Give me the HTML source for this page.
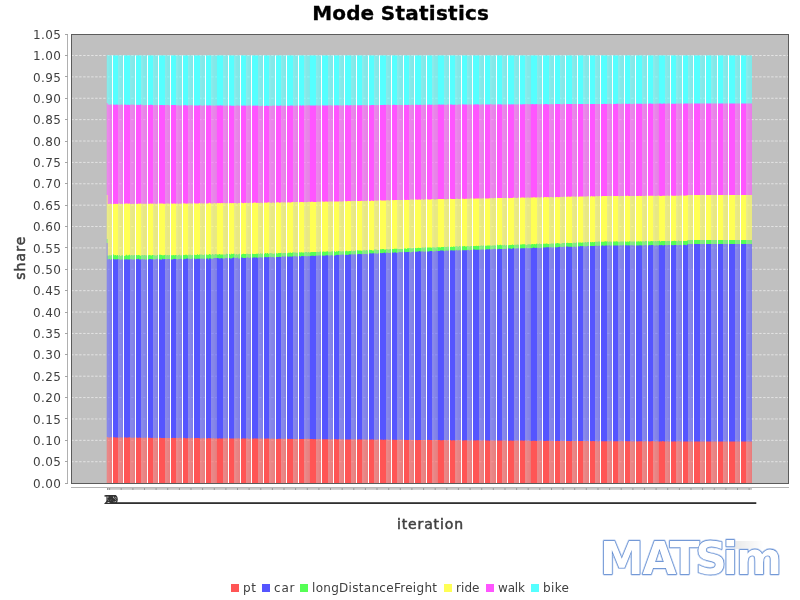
<!DOCTYPE html>
<html><head><meta charset="utf-8"><title>Mode Statistics</title>
<style>
html,body{margin:0;padding:0;background:#fff}
svg{display:block}
text{font-family:"DejaVu Sans","Liberation Sans",sans-serif}
.tk{font-size:12px;fill:#404040;text-anchor:end}
.lg{font-size:12px;fill:#404040}
.ax{font-size:14px;fill:#404040;stroke:#404040;stroke-width:0.5;text-anchor:middle}
.ct{font-size:12px;fill:#333;text-anchor:middle}
</style></head><body>
<svg width="800" height="600" viewBox="0 0 800 600">
<defs>

<mask id="cov" maskUnits="userSpaceOnUse" x="100" y="50" width="660" height="440">
<rect x="106" y="50" width="1" height="440" fill="#fff" fill-opacity="0.15"/>
<rect x="107" y="50" width="1" height="440" fill="#fff" fill-opacity="0.67"/>
<rect x="108" y="50" width="1" height="440" fill="#fff" fill-opacity="0.65"/>
<rect x="109" y="50" width="2" height="440" fill="#fff" fill-opacity="0.64"/>
<rect x="111" y="50" width="1" height="440" fill="#fff" fill-opacity="0.66"/>
<rect x="112" y="50" width="6" height="440" fill="#fff" fill-opacity="1"/>
<rect x="118" y="50" width="1" height="440" fill="#fff" fill-opacity="0.68"/>
<rect x="119" y="50" width="1" height="440" fill="#fff" fill-opacity="0.66"/>
<rect x="120" y="50" width="2" height="440" fill="#fff" fill-opacity="0.64"/>
<rect x="122" y="50" width="1" height="440" fill="#fff" fill-opacity="0.65"/>
<rect x="123" y="50" width="7" height="440" fill="#fff" fill-opacity="1"/>
<rect x="130" y="50" width="1" height="440" fill="#fff" fill-opacity="0.67"/>
<rect x="131" y="50" width="1" height="440" fill="#fff" fill-opacity="0.65"/>
<rect x="132" y="50" width="2" height="440" fill="#fff" fill-opacity="0.64"/>
<rect x="134" y="50" width="1" height="440" fill="#fff" fill-opacity="0.65"/>
<rect x="135" y="50" width="6" height="440" fill="#fff" fill-opacity="1"/>
<rect x="141" y="50" width="1" height="440" fill="#fff" fill-opacity="0.69"/>
<rect x="142" y="50" width="1" height="440" fill="#fff" fill-opacity="0.66"/>
<rect x="143" y="50" width="3" height="440" fill="#fff" fill-opacity="0.64"/>
<rect x="146" y="50" width="1" height="440" fill="#fff" fill-opacity="0.66"/>
<rect x="147" y="50" width="6" height="440" fill="#fff" fill-opacity="1"/>
<rect x="153" y="50" width="1" height="440" fill="#fff" fill-opacity="0.68"/>
<rect x="154" y="50" width="1" height="440" fill="#fff" fill-opacity="0.65"/>
<rect x="155" y="50" width="2" height="440" fill="#fff" fill-opacity="0.64"/>
<rect x="157" y="50" width="1" height="440" fill="#fff" fill-opacity="0.65"/>
<rect x="158" y="50" width="7" height="440" fill="#fff" fill-opacity="1"/>
<rect x="165" y="50" width="1" height="440" fill="#fff" fill-opacity="0.67"/>
<rect x="166" y="50" width="1" height="440" fill="#fff" fill-opacity="0.65"/>
<rect x="167" y="50" width="2" height="440" fill="#fff" fill-opacity="0.64"/>
<rect x="169" y="50" width="1" height="440" fill="#fff" fill-opacity="0.66"/>
<rect x="170" y="50" width="6" height="440" fill="#fff" fill-opacity="1"/>
<rect x="176" y="50" width="1" height="440" fill="#fff" fill-opacity="0.69"/>
<rect x="177" y="50" width="1" height="440" fill="#fff" fill-opacity="0.66"/>
<rect x="178" y="50" width="3" height="440" fill="#fff" fill-opacity="0.64"/>
<rect x="181" y="50" width="1" height="440" fill="#fff" fill-opacity="0.66"/>
<rect x="182" y="50" width="6" height="440" fill="#fff" fill-opacity="1"/>
<rect x="188" y="50" width="1" height="440" fill="#fff" fill-opacity="0.68"/>
<rect x="189" y="50" width="1" height="440" fill="#fff" fill-opacity="0.65"/>
<rect x="190" y="50" width="2" height="440" fill="#fff" fill-opacity="0.64"/>
<rect x="192" y="50" width="1" height="440" fill="#fff" fill-opacity="0.65"/>
<rect x="193" y="50" width="7" height="440" fill="#fff" fill-opacity="1"/>
<rect x="200" y="50" width="1" height="440" fill="#fff" fill-opacity="0.67"/>
<rect x="201" y="50" width="1" height="440" fill="#fff" fill-opacity="0.65"/>
<rect x="202" y="50" width="2" height="440" fill="#fff" fill-opacity="0.64"/>
<rect x="204" y="50" width="1" height="440" fill="#fff" fill-opacity="0.66"/>
<rect x="205" y="50" width="6" height="440" fill="#fff" fill-opacity="1"/>
<rect x="211" y="50" width="1" height="440" fill="#fff" fill-opacity="0.69"/>
<rect x="212" y="50" width="1" height="440" fill="#fff" fill-opacity="0.66"/>
<rect x="213" y="50" width="2" height="440" fill="#fff" fill-opacity="0.64"/>
<rect x="215" y="50" width="1" height="440" fill="#fff" fill-opacity="0.65"/>
<rect x="216" y="50" width="1" height="440" fill="#fff" fill-opacity="0.67"/>
<rect x="217" y="50" width="6" height="440" fill="#fff" fill-opacity="1"/>
<rect x="223" y="50" width="1" height="440" fill="#fff" fill-opacity="0.67"/>
<rect x="224" y="50" width="1" height="440" fill="#fff" fill-opacity="0.65"/>
<rect x="225" y="50" width="2" height="440" fill="#fff" fill-opacity="0.64"/>
<rect x="227" y="50" width="1" height="440" fill="#fff" fill-opacity="0.65"/>
<rect x="228" y="50" width="6" height="440" fill="#fff" fill-opacity="1"/>
<rect x="234" y="50" width="1" height="440" fill="#fff" fill-opacity="0.7"/>
<rect x="235" y="50" width="1" height="440" fill="#fff" fill-opacity="0.66"/>
<rect x="236" y="50" width="3" height="440" fill="#fff" fill-opacity="0.64"/>
<rect x="239" y="50" width="1" height="440" fill="#fff" fill-opacity="0.66"/>
<rect x="240" y="50" width="6" height="440" fill="#fff" fill-opacity="1"/>
<rect x="246" y="50" width="1" height="440" fill="#fff" fill-opacity="0.68"/>
<rect x="247" y="50" width="1" height="440" fill="#fff" fill-opacity="0.66"/>
<rect x="248" y="50" width="2" height="440" fill="#fff" fill-opacity="0.64"/>
<rect x="250" y="50" width="1" height="440" fill="#fff" fill-opacity="0.65"/>
<rect x="251" y="50" width="7" height="440" fill="#fff" fill-opacity="1"/>
<rect x="258" y="50" width="1" height="440" fill="#fff" fill-opacity="0.67"/>
<rect x="259" y="50" width="1" height="440" fill="#fff" fill-opacity="0.65"/>
<rect x="260" y="50" width="2" height="440" fill="#fff" fill-opacity="0.64"/>
<rect x="262" y="50" width="1" height="440" fill="#fff" fill-opacity="0.65"/>
<rect x="263" y="50" width="6" height="440" fill="#fff" fill-opacity="1"/>
<rect x="269" y="50" width="1" height="440" fill="#fff" fill-opacity="0.69"/>
<rect x="270" y="50" width="1" height="440" fill="#fff" fill-opacity="0.66"/>
<rect x="271" y="50" width="3" height="440" fill="#fff" fill-opacity="0.64"/>
<rect x="274" y="50" width="1" height="440" fill="#fff" fill-opacity="0.66"/>
<rect x="275" y="50" width="6" height="440" fill="#fff" fill-opacity="1"/>
<rect x="281" y="50" width="1" height="440" fill="#fff" fill-opacity="0.68"/>
<rect x="282" y="50" width="1" height="440" fill="#fff" fill-opacity="0.65"/>
<rect x="283" y="50" width="2" height="440" fill="#fff" fill-opacity="0.64"/>
<rect x="285" y="50" width="1" height="440" fill="#fff" fill-opacity="0.65"/>
<rect x="286" y="50" width="7" height="440" fill="#fff" fill-opacity="1"/>
<rect x="293" y="50" width="1" height="440" fill="#fff" fill-opacity="0.67"/>
<rect x="294" y="50" width="1" height="440" fill="#fff" fill-opacity="0.65"/>
<rect x="295" y="50" width="2" height="440" fill="#fff" fill-opacity="0.64"/>
<rect x="297" y="50" width="1" height="440" fill="#fff" fill-opacity="0.66"/>
<rect x="298" y="50" width="6" height="440" fill="#fff" fill-opacity="1"/>
<rect x="304" y="50" width="1" height="440" fill="#fff" fill-opacity="0.69"/>
<rect x="305" y="50" width="1" height="440" fill="#fff" fill-opacity="0.66"/>
<rect x="306" y="50" width="2" height="440" fill="#fff" fill-opacity="0.64"/>
<rect x="308" y="50" width="1" height="440" fill="#fff" fill-opacity="0.65"/>
<rect x="309" y="50" width="1" height="440" fill="#fff" fill-opacity="0.67"/>
<rect x="310" y="50" width="6" height="440" fill="#fff" fill-opacity="1"/>
<rect x="316" y="50" width="1" height="440" fill="#fff" fill-opacity="0.68"/>
<rect x="317" y="50" width="1" height="440" fill="#fff" fill-opacity="0.65"/>
<rect x="318" y="50" width="2" height="440" fill="#fff" fill-opacity="0.64"/>
<rect x="320" y="50" width="1" height="440" fill="#fff" fill-opacity="0.65"/>
<rect x="321" y="50" width="7" height="440" fill="#fff" fill-opacity="1"/>
<rect x="328" y="50" width="1" height="440" fill="#fff" fill-opacity="0.67"/>
<rect x="329" y="50" width="1" height="440" fill="#fff" fill-opacity="0.65"/>
<rect x="330" y="50" width="2" height="440" fill="#fff" fill-opacity="0.64"/>
<rect x="332" y="50" width="1" height="440" fill="#fff" fill-opacity="0.66"/>
<rect x="333" y="50" width="6" height="440" fill="#fff" fill-opacity="1"/>
<rect x="339" y="50" width="1" height="440" fill="#fff" fill-opacity="0.68"/>
<rect x="340" y="50" width="1" height="440" fill="#fff" fill-opacity="0.66"/>
<rect x="341" y="50" width="2" height="440" fill="#fff" fill-opacity="0.64"/>
<rect x="343" y="50" width="1" height="440" fill="#fff" fill-opacity="0.65"/>
<rect x="344" y="50" width="7" height="440" fill="#fff" fill-opacity="1"/>
<rect x="351" y="50" width="1" height="440" fill="#fff" fill-opacity="0.67"/>
<rect x="352" y="50" width="1" height="440" fill="#fff" fill-opacity="0.65"/>
<rect x="353" y="50" width="2" height="440" fill="#fff" fill-opacity="0.64"/>
<rect x="355" y="50" width="1" height="440" fill="#fff" fill-opacity="0.65"/>
<rect x="356" y="50" width="6" height="440" fill="#fff" fill-opacity="1"/>
<rect x="362" y="50" width="1" height="440" fill="#fff" fill-opacity="0.69"/>
<rect x="363" y="50" width="1" height="440" fill="#fff" fill-opacity="0.66"/>
<rect x="364" y="50" width="3" height="440" fill="#fff" fill-opacity="0.64"/>
<rect x="367" y="50" width="1" height="440" fill="#fff" fill-opacity="0.66"/>
<rect x="368" y="50" width="6" height="440" fill="#fff" fill-opacity="1"/>
<rect x="374" y="50" width="1" height="440" fill="#fff" fill-opacity="0.68"/>
<rect x="375" y="50" width="1" height="440" fill="#fff" fill-opacity="0.65"/>
<rect x="376" y="50" width="2" height="440" fill="#fff" fill-opacity="0.64"/>
<rect x="378" y="50" width="1" height="440" fill="#fff" fill-opacity="0.65"/>
<rect x="379" y="50" width="7" height="440" fill="#fff" fill-opacity="1"/>
<rect x="386" y="50" width="1" height="440" fill="#fff" fill-opacity="0.67"/>
<rect x="387" y="50" width="1" height="440" fill="#fff" fill-opacity="0.65"/>
<rect x="388" y="50" width="2" height="440" fill="#fff" fill-opacity="0.64"/>
<rect x="390" y="50" width="1" height="440" fill="#fff" fill-opacity="0.66"/>
<rect x="391" y="50" width="6" height="440" fill="#fff" fill-opacity="1"/>
<rect x="397" y="50" width="1" height="440" fill="#fff" fill-opacity="0.69"/>
<rect x="398" y="50" width="1" height="440" fill="#fff" fill-opacity="0.66"/>
<rect x="399" y="50" width="3" height="440" fill="#fff" fill-opacity="0.64"/>
<rect x="402" y="50" width="1" height="440" fill="#fff" fill-opacity="0.66"/>
<rect x="403" y="50" width="6" height="440" fill="#fff" fill-opacity="1"/>
<rect x="409" y="50" width="1" height="440" fill="#fff" fill-opacity="0.68"/>
<rect x="410" y="50" width="1" height="440" fill="#fff" fill-opacity="0.65"/>
<rect x="411" y="50" width="2" height="440" fill="#fff" fill-opacity="0.64"/>
<rect x="413" y="50" width="1" height="440" fill="#fff" fill-opacity="0.65"/>
<rect x="414" y="50" width="7" height="440" fill="#fff" fill-opacity="1"/>
<rect x="421" y="50" width="1" height="440" fill="#fff" fill-opacity="0.67"/>
<rect x="422" y="50" width="1" height="440" fill="#fff" fill-opacity="0.65"/>
<rect x="423" y="50" width="2" height="440" fill="#fff" fill-opacity="0.64"/>
<rect x="425" y="50" width="1" height="440" fill="#fff" fill-opacity="0.66"/>
<rect x="426" y="50" width="6" height="440" fill="#fff" fill-opacity="1"/>
<rect x="432" y="50" width="1" height="440" fill="#fff" fill-opacity="0.69"/>
<rect x="433" y="50" width="1" height="440" fill="#fff" fill-opacity="0.66"/>
<rect x="434" y="50" width="2" height="440" fill="#fff" fill-opacity="0.64"/>
<rect x="436" y="50" width="1" height="440" fill="#fff" fill-opacity="0.65"/>
<rect x="437" y="50" width="1" height="440" fill="#fff" fill-opacity="0.67"/>
<rect x="438" y="50" width="6" height="440" fill="#fff" fill-opacity="1"/>
<rect x="444" y="50" width="1" height="440" fill="#fff" fill-opacity="0.67"/>
<rect x="445" y="50" width="1" height="440" fill="#fff" fill-opacity="0.65"/>
<rect x="446" y="50" width="2" height="440" fill="#fff" fill-opacity="0.64"/>
<rect x="448" y="50" width="1" height="440" fill="#fff" fill-opacity="0.65"/>
<rect x="449" y="50" width="6" height="440" fill="#fff" fill-opacity="1"/>
<rect x="455" y="50" width="1" height="440" fill="#fff" fill-opacity="0.7"/>
<rect x="456" y="50" width="1" height="440" fill="#fff" fill-opacity="0.66"/>
<rect x="457" y="50" width="3" height="440" fill="#fff" fill-opacity="0.64"/>
<rect x="460" y="50" width="1" height="440" fill="#fff" fill-opacity="0.66"/>
<rect x="461" y="50" width="6" height="440" fill="#fff" fill-opacity="1"/>
<rect x="467" y="50" width="1" height="440" fill="#fff" fill-opacity="0.68"/>
<rect x="468" y="50" width="1" height="440" fill="#fff" fill-opacity="0.66"/>
<rect x="469" y="50" width="2" height="440" fill="#fff" fill-opacity="0.64"/>
<rect x="471" y="50" width="1" height="440" fill="#fff" fill-opacity="0.65"/>
<rect x="472" y="50" width="7" height="440" fill="#fff" fill-opacity="1"/>
<rect x="479" y="50" width="1" height="440" fill="#fff" fill-opacity="0.67"/>
<rect x="480" y="50" width="1" height="440" fill="#fff" fill-opacity="0.65"/>
<rect x="481" y="50" width="2" height="440" fill="#fff" fill-opacity="0.64"/>
<rect x="483" y="50" width="1" height="440" fill="#fff" fill-opacity="0.65"/>
<rect x="484" y="50" width="6" height="440" fill="#fff" fill-opacity="1"/>
<rect x="490" y="50" width="1" height="440" fill="#fff" fill-opacity="0.69"/>
<rect x="491" y="50" width="1" height="440" fill="#fff" fill-opacity="0.66"/>
<rect x="492" y="50" width="3" height="440" fill="#fff" fill-opacity="0.64"/>
<rect x="495" y="50" width="1" height="440" fill="#fff" fill-opacity="0.66"/>
<rect x="496" y="50" width="6" height="440" fill="#fff" fill-opacity="1"/>
<rect x="502" y="50" width="1" height="440" fill="#fff" fill-opacity="0.68"/>
<rect x="503" y="50" width="1" height="440" fill="#fff" fill-opacity="0.65"/>
<rect x="504" y="50" width="2" height="440" fill="#fff" fill-opacity="0.64"/>
<rect x="506" y="50" width="1" height="440" fill="#fff" fill-opacity="0.65"/>
<rect x="507" y="50" width="7" height="440" fill="#fff" fill-opacity="1"/>
<rect x="514" y="50" width="1" height="440" fill="#fff" fill-opacity="0.67"/>
<rect x="515" y="50" width="1" height="440" fill="#fff" fill-opacity="0.65"/>
<rect x="516" y="50" width="2" height="440" fill="#fff" fill-opacity="0.64"/>
<rect x="518" y="50" width="1" height="440" fill="#fff" fill-opacity="0.66"/>
<rect x="519" y="50" width="6" height="440" fill="#fff" fill-opacity="1"/>
<rect x="525" y="50" width="1" height="440" fill="#fff" fill-opacity="0.69"/>
<rect x="526" y="50" width="1" height="440" fill="#fff" fill-opacity="0.66"/>
<rect x="527" y="50" width="2" height="440" fill="#fff" fill-opacity="0.64"/>
<rect x="529" y="50" width="1" height="440" fill="#fff" fill-opacity="0.65"/>
<rect x="530" y="50" width="1" height="440" fill="#fff" fill-opacity="0.67"/>
<rect x="531" y="50" width="6" height="440" fill="#fff" fill-opacity="1"/>
<rect x="537" y="50" width="1" height="440" fill="#fff" fill-opacity="0.68"/>
<rect x="538" y="50" width="1" height="440" fill="#fff" fill-opacity="0.65"/>
<rect x="539" y="50" width="2" height="440" fill="#fff" fill-opacity="0.64"/>
<rect x="541" y="50" width="1" height="440" fill="#fff" fill-opacity="0.65"/>
<rect x="542" y="50" width="7" height="440" fill="#fff" fill-opacity="1"/>
<rect x="549" y="50" width="1" height="440" fill="#fff" fill-opacity="0.67"/>
<rect x="550" y="50" width="1" height="440" fill="#fff" fill-opacity="0.65"/>
<rect x="551" y="50" width="2" height="440" fill="#fff" fill-opacity="0.64"/>
<rect x="553" y="50" width="1" height="440" fill="#fff" fill-opacity="0.66"/>
<rect x="554" y="50" width="6" height="440" fill="#fff" fill-opacity="1"/>
<rect x="560" y="50" width="1" height="440" fill="#fff" fill-opacity="0.68"/>
<rect x="561" y="50" width="1" height="440" fill="#fff" fill-opacity="0.66"/>
<rect x="562" y="50" width="2" height="440" fill="#fff" fill-opacity="0.64"/>
<rect x="564" y="50" width="1" height="440" fill="#fff" fill-opacity="0.65"/>
<rect x="565" y="50" width="7" height="440" fill="#fff" fill-opacity="1"/>
<rect x="572" y="50" width="1" height="440" fill="#fff" fill-opacity="0.67"/>
<rect x="573" y="50" width="1" height="440" fill="#fff" fill-opacity="0.65"/>
<rect x="574" y="50" width="2" height="440" fill="#fff" fill-opacity="0.64"/>
<rect x="576" y="50" width="1" height="440" fill="#fff" fill-opacity="0.65"/>
<rect x="577" y="50" width="6" height="440" fill="#fff" fill-opacity="1"/>
<rect x="583" y="50" width="1" height="440" fill="#fff" fill-opacity="0.69"/>
<rect x="584" y="50" width="1" height="440" fill="#fff" fill-opacity="0.66"/>
<rect x="585" y="50" width="3" height="440" fill="#fff" fill-opacity="0.64"/>
<rect x="588" y="50" width="1" height="440" fill="#fff" fill-opacity="0.66"/>
<rect x="589" y="50" width="6" height="440" fill="#fff" fill-opacity="1"/>
<rect x="595" y="50" width="1" height="440" fill="#fff" fill-opacity="0.68"/>
<rect x="596" y="50" width="1" height="440" fill="#fff" fill-opacity="0.65"/>
<rect x="597" y="50" width="2" height="440" fill="#fff" fill-opacity="0.64"/>
<rect x="599" y="50" width="1" height="440" fill="#fff" fill-opacity="0.65"/>
<rect x="600" y="50" width="7" height="440" fill="#fff" fill-opacity="1"/>
<rect x="607" y="50" width="1" height="440" fill="#fff" fill-opacity="0.67"/>
<rect x="608" y="50" width="1" height="440" fill="#fff" fill-opacity="0.65"/>
<rect x="609" y="50" width="2" height="440" fill="#fff" fill-opacity="0.64"/>
<rect x="611" y="50" width="1" height="440" fill="#fff" fill-opacity="0.66"/>
<rect x="612" y="50" width="6" height="440" fill="#fff" fill-opacity="1"/>
<rect x="618" y="50" width="1" height="440" fill="#fff" fill-opacity="0.69"/>
<rect x="619" y="50" width="1" height="440" fill="#fff" fill-opacity="0.66"/>
<rect x="620" y="50" width="3" height="440" fill="#fff" fill-opacity="0.64"/>
<rect x="623" y="50" width="1" height="440" fill="#fff" fill-opacity="0.66"/>
<rect x="624" y="50" width="6" height="440" fill="#fff" fill-opacity="1"/>
<rect x="630" y="50" width="1" height="440" fill="#fff" fill-opacity="0.68"/>
<rect x="631" y="50" width="1" height="440" fill="#fff" fill-opacity="0.65"/>
<rect x="632" y="50" width="2" height="440" fill="#fff" fill-opacity="0.64"/>
<rect x="634" y="50" width="1" height="440" fill="#fff" fill-opacity="0.65"/>
<rect x="635" y="50" width="7" height="440" fill="#fff" fill-opacity="1"/>
<rect x="642" y="50" width="1" height="440" fill="#fff" fill-opacity="0.67"/>
<rect x="643" y="50" width="1" height="440" fill="#fff" fill-opacity="0.65"/>
<rect x="644" y="50" width="2" height="440" fill="#fff" fill-opacity="0.64"/>
<rect x="646" y="50" width="1" height="440" fill="#fff" fill-opacity="0.66"/>
<rect x="647" y="50" width="6" height="440" fill="#fff" fill-opacity="1"/>
<rect x="653" y="50" width="1" height="440" fill="#fff" fill-opacity="0.69"/>
<rect x="654" y="50" width="1" height="440" fill="#fff" fill-opacity="0.66"/>
<rect x="655" y="50" width="2" height="440" fill="#fff" fill-opacity="0.64"/>
<rect x="657" y="50" width="1" height="440" fill="#fff" fill-opacity="0.65"/>
<rect x="658" y="50" width="1" height="440" fill="#fff" fill-opacity="0.67"/>
<rect x="659" y="50" width="6" height="440" fill="#fff" fill-opacity="1"/>
<rect x="665" y="50" width="1" height="440" fill="#fff" fill-opacity="0.67"/>
<rect x="666" y="50" width="1" height="440" fill="#fff" fill-opacity="0.65"/>
<rect x="667" y="50" width="2" height="440" fill="#fff" fill-opacity="0.64"/>
<rect x="669" y="50" width="1" height="440" fill="#fff" fill-opacity="0.65"/>
<rect x="670" y="50" width="6" height="440" fill="#fff" fill-opacity="1"/>
<rect x="676" y="50" width="1" height="440" fill="#fff" fill-opacity="0.7"/>
<rect x="677" y="50" width="1" height="440" fill="#fff" fill-opacity="0.66"/>
<rect x="678" y="50" width="3" height="440" fill="#fff" fill-opacity="0.64"/>
<rect x="681" y="50" width="1" height="440" fill="#fff" fill-opacity="0.66"/>
<rect x="682" y="50" width="6" height="440" fill="#fff" fill-opacity="1"/>
<rect x="688" y="50" width="1" height="440" fill="#fff" fill-opacity="0.68"/>
<rect x="689" y="50" width="1" height="440" fill="#fff" fill-opacity="0.66"/>
<rect x="690" y="50" width="2" height="440" fill="#fff" fill-opacity="0.64"/>
<rect x="692" y="50" width="1" height="440" fill="#fff" fill-opacity="0.65"/>
<rect x="693" y="50" width="7" height="440" fill="#fff" fill-opacity="1"/>
<rect x="700" y="50" width="1" height="440" fill="#fff" fill-opacity="0.67"/>
<rect x="701" y="50" width="1" height="440" fill="#fff" fill-opacity="0.65"/>
<rect x="702" y="50" width="2" height="440" fill="#fff" fill-opacity="0.64"/>
<rect x="704" y="50" width="1" height="440" fill="#fff" fill-opacity="0.65"/>
<rect x="705" y="50" width="6" height="440" fill="#fff" fill-opacity="1"/>
<rect x="711" y="50" width="1" height="440" fill="#fff" fill-opacity="0.69"/>
<rect x="712" y="50" width="1" height="440" fill="#fff" fill-opacity="0.66"/>
<rect x="713" y="50" width="3" height="440" fill="#fff" fill-opacity="0.64"/>
<rect x="716" y="50" width="1" height="440" fill="#fff" fill-opacity="0.66"/>
<rect x="717" y="50" width="6" height="440" fill="#fff" fill-opacity="1"/>
<rect x="723" y="50" width="1" height="440" fill="#fff" fill-opacity="0.68"/>
<rect x="724" y="50" width="1" height="440" fill="#fff" fill-opacity="0.65"/>
<rect x="725" y="50" width="2" height="440" fill="#fff" fill-opacity="0.64"/>
<rect x="727" y="50" width="1" height="440" fill="#fff" fill-opacity="0.65"/>
<rect x="728" y="50" width="7" height="440" fill="#fff" fill-opacity="1"/>
<rect x="735" y="50" width="1" height="440" fill="#fff" fill-opacity="0.67"/>
<rect x="736" y="50" width="1" height="440" fill="#fff" fill-opacity="0.65"/>
<rect x="737" y="50" width="2" height="440" fill="#fff" fill-opacity="0.64"/>
<rect x="739" y="50" width="1" height="440" fill="#fff" fill-opacity="0.66"/>
<rect x="740" y="50" width="6" height="440" fill="#fff" fill-opacity="1"/>
<rect x="746" y="50" width="1" height="440" fill="#fff" fill-opacity="0.69"/>
<rect x="747" y="50" width="1" height="440" fill="#fff" fill-opacity="0.66"/>
<rect x="748" y="50" width="2" height="440" fill="#fff" fill-opacity="0.64"/>
<rect x="750" y="50" width="1" height="440" fill="#fff" fill-opacity="0.65"/>
<rect x="751" y="50" width="1" height="440" fill="#fff" fill-opacity="0.67"/>
</mask>
<linearGradient id="sh" x1="0" x2="1" y1="0" y2="0"><stop offset="0" stop-color="#000" stop-opacity="0.09"/><stop offset="1" stop-color="#000" stop-opacity="0"/></linearGradient>
</defs>
<rect width="800" height="600" fill="#fff"/>
<text y="19.5" font-size="20" font-weight="bold" fill="#000" stroke="#000" stroke-width="0.3"><tspan x="312.2" textLength="62" lengthAdjust="spacing">Mode</tspan> <tspan x="380.8" textLength="108.2" lengthAdjust="spacing">Statistics</tspan></text>
<rect x="71" y="34" width="718" height="450" fill="#c0c0c0"/>
<path d="M71.2,461.72H789M71.2,440.34H789M71.2,418.96H789M71.2,397.58H789M71.2,376.20H789M71.2,354.82H789M71.2,333.44H789M71.2,312.06H789M71.2,290.68H789M71.2,269.30H789M71.2,247.92H789M71.2,226.54H789M71.2,205.16H789M71.2,183.78H789M71.2,162.40H789M71.2,141.02H789M71.2,119.64H789M71.2,98.26H789M71.2,76.88H789M71.2,55.50H789" stroke="#fff" stroke-opacity="0.72" stroke-width="0.8" stroke-dasharray="2.4,1.6" fill="none"/>
<g mask="url(#cov)">
<rect x="106" y="55.4" width="646" height="428.6" fill="#55ffff"/>
<path d="M106,484V103h1V104.5h1V104.6h1V104.7h1V104.5h1V104.6h1V104.7h1V104.4h1V104.8h1V104.8h1V104.6h1V104.7h1V104.8h1V104.7h1V104.7h1V104.5h1V104.8h1V104.8h1V104.8h1V104.5h1V105h1V104.8h1V104.7h1V105.1h1V104.8h1V104.6h1V104.8h1V104.5h1V105h1V104.8h1V104.8h1V105h1V104.7h1V105h1V104.6h1V104.8h1V104.8h1V105.2h1V105.2h1V104.9h1V105.1h1V105h1V105.1h1V104.9h1V104.8h1V104.8h1V105.1h1V105.3h1V105.1h1V105h1V105.3h1V105.1h1V105.1h1V105.1h1V105.1h1V105h1V104.9h1V105.2h1V105.1h1V105.3h1V105.1h1V104.9h1V105.1h1V105.4h1V105.1h1V105h1V105h1V105h1V105.1h1V105h1V105.4h1V105.2h1V105.2h1V105.4h1V105.4h1V105.2h1V105.3h1V105.3h1V105.2h1V105h1V105.4h1V105.4h1V105.3h1V105.2h1V105.3h1V105.2h1V105.3h1V105.5h1V105.5h1V105.4h1V105.4h1V105.4h1V105.4h1V105.3h1V105.3h1V105.4h1V105.7h1V105.5h1V105.3h1V105.3h1V105.3h1V105.5h1V105.5h1V105.2h1V105.5h1V105.4h1V105.6h1V105.5h1V105.7h1V105.4h1V105.4h1V105.5h1V105.6h1V105.6h1V105.3h1V105.5h1V105.5h1V105.5h1V105.5h1V105.8h1V105.5h1V105.4h1V105.7h1V105.6h1V105.6h1V105.7h1V105.7h1V105.7h1V105.7h1V105.7h1V105.5h1V105.6h1V105.6h1V105.7h1V105.5h1V105.4h1V105.7h1V105.5h1V105.4h1V105.7h1V105.6h1V105.8h1V105.6h1V105.6h1V105.6h1V105.7h1V105.7h1V105.6h1V105.7h1V105.6h1V105.8h1V105.5h1V105.8h1V105.9h1V105.9h1V106h1V105.6h1V105.9h1V105.9h1V105.9h1V105.6h1V105.8h1V106h1V105.5h1V105.8h1V105.9h1V105.6h1V105.8h1V105.6h1V105.6h1V105.6h1V105.7h1V105.7h1V105.8h1V105.6h1V105.6h1V105.8h1V105.7h1V105.5h1V105.7h1V105.6h1V105.7h1V105.7h1V105.8h1V105.6h1V105.4h1V105.4h1V105.7h1V105.6h1V105.7h1V105.6h1V105.5h1V105.7h1V105.5h1V105.3h1V105.8h1V105.3h1V105.6h1V105.6h1V105.5h1V105.3h1V105.6h1V105.3h1V105.3h1V105.4h1V105.6h1V105.5h1V105.6h1V105.4h1V105.4h1V105.3h1V105.4h1V105.5h1V105.4h1V105.5h1V105.3h1V105.3h1V105.4h1V105.4h1V105.5h1V105.4h1V105.6h1V105.3h1V105.3h1V105.2h1V105.4h1V105.4h1V105.3h1V105.3h1V105.4h1V105.3h1V105.3h1V105.4h1V105.3h1V105.3h1V105.4h1V105.4h1V105.2h1V105.2h1V105.3h1V105.2h1V105h1V105.4h1V105.2h1V105.3h1V105.1h1V105.4h1V105.1h1V105.2h1V105h1V105.2h1V105.2h1V105.2h1V105.2h1V105.2h1V105.3h1V105.1h1V105h1V105.1h1V105.2h1V105.3h1V105.2h1V104.9h1V105.2h1V105.3h1V105.1h1V105h1V105.1h1V105h1V105.2h1V105.1h1V105.2h1V105.1h1V105h1V105.1h1V105.1h1V105h1V105h1V104.8h1V105.1h1V104.9h1V104.8h1V104.8h1V105h1V105.1h1V105h1V105h1V104.8h1V104.8h1V105.1h1V105h1V104.9h1V105.1h1V104.8h1V104.9h1V105h1V105.1h1V104.9h1V105.1h1V104.8h1V104.9h1V104.9h1V104.7h1V104.9h1V105h1V104.8h1V104.8h1V105h1V104.7h1V104.7h1V104.7h1V104.7h1V105h1V104.8h1V104.7h1V104.7h1V105.1h1V104.7h1V104.7h1V104.8h1V104.8h1V104.8h1V104.7h1V104.6h1V104.8h1V104.7h1V104.6h1V104.9h1V104.8h1V104.7h1V104.7h1V104.7h1V104.6h1V104.6h1V104.7h1V104.5h1V104.7h1V104.5h1V104.7h1V104.7h1V104.9h1V104.5h1V104.5h1V104.6h1V104.5h1V104.6h1V104.7h1V104.7h1V104.8h1V104.5h1V104.9h1V104.8h1V104.6h1V104.4h1V104.6h1V104.6h1V104.3h1V104.6h1V104.6h1V104.5h1V104.6h1V104.7h1V104.5h1V104.6h1V104.5h1V104.5h1V104.5h1V104.6h1V104.5h1V104.3h1V104.6h1V104.3h1V104.5h1V104.7h1V104.5h1V104.4h1V104.3h1V104.6h1V104.5h1V104.5h1V104.6h1V104.5h1V104.4h1V104.4h1V104.1h1V104.3h1V104.4h1V104.4h1V104.5h1V104.4h1V104.4h1V104.5h1V104.3h1V104.4h1V104.2h1V104.5h1V104.4h1V104.4h1V104.5h1V104.5h1V104.4h1V104.4h1V104.2h1V104.4h1V104.4h1V104.2h1V104.5h1V104.3h1V104.4h1V104.3h1V104.4h1V104.4h1V104.2h1V104.2h1V104.3h1V104.4h1V104.3h1V104.2h1V104.3h1V104h1V104.2h1V104.1h1V104.3h1V104.2h1V104.1h1V104.2h1V104.1h1V104.2h1V104.2h1V104.2h1V104.1h1V104.3h1V104.2h1V104.3h1V104.2h1V104.1h1V104.2h1V104.2h1V104.2h1V104.1h1V104.1h1V104.2h1V104.4h1V104.1h1V104.2h1V104.1h1V104.2h1V104.2h1V104.2h1V103.9h1V104.1h1V104h1V104.1h1V104h1V104h1V104.2h1V104.3h1V103.8h1V104h1V104.1h1V104.1h1V104h1V103.9h1V104h1V104.1h1V104.1h1V104h1V104h1V104h1V104h1V104.1h1V104h1V104h1V104h1V103.9h1V104.1h1V104.1h1V103.9h1V104h1V103.9h1V104.1h1V104h1V103.9h1V104h1V103.9h1V103.9h1V103.9h1V103.9h1V103.9h1V103.9h1V103.9h1V104h1V104h1V103.9h1V103.8h1V104h1V104h1V103.9h1V103.8h1V103.9h1V104h1V103.7h1V103.9h1V103.8h1V103.8h1V103.9h1V103.7h1V103.9h1V104h1V103.9h1V103.8h1V103.7h1V103.7h1V103.7h1V104h1V103.8h1V103.7h1V103.7h1V103.7h1V103.8h1V103.7h1V103.9h1V103.7h1V103.7h1V103.8h1V103.9h1V103.9h1V103.7h1V103.8h1V103.8h1V103.8h1V103.8h1V103.7h1V103.7h1V103.8h1V103.7h1V103.9h1V103.8h1V103.7h1V103.7h1V103.7h1V103.7h1V103.8h1V103.6h1V103.6h1V103.7h1V103.7h1V103.7h1V103.7h1V103.7h1V103.8h1V103.6h1V103.7h1V103.6h1V103.6h1V103.7h1V103.7h1V103.5h1V103.6h1V103.7h1V103.8h1V103.6h1V103.6h1V103.6h1V103.9h1V103.7h1V103.7h1V103.7h1V103.7h1V103.7h1V103.6h1V103.7h1V103.6h1V103.7h1V103.6h1V103.6h1V103.7h1V103.7h1V103.6h1V103.6h1V103.6h1V103.5h1V103.5h1V103.5h1V103.5h1V103.5h1V103.5h1V103.5h1V103.5h1V103.5h1V103.5h1V103.5h1V103.5h1V103.5h1V103.5h1V103.5h1V103.5h1V103.5h1V103.5h1V103.5h1V103.5h1V103.5h1V103.5h1V103.5h1V103.5h1V103.5h1V103.5h1V103.5h1V103.5h1V103.5h1V103.5h1V103.5h1V103.5h1V103.5h1V103.5h1V103.5h1V103.5h1V103.5h1V103.5h1V103.5h1V103.5h1V103.5h1V103.5h1V103.5h1V103.5h1V103.5h1V103.5h1V103.5h1V103.5h1V103.5h1V103.5h1V103.5h1V103.5h1V103.5h1V103.5h1V103.5h1V103.5h1V103.5h1V103.5h1V103.5h1V103.5h1V103.5h1V103.5h1V103.5h1V103.5h1V103.5h1V484Z" fill="#ff55ff"/>
<path d="M106,484V195h1V204h1V204h1V203.8h1V203.7h1V204h1V204.1h1V203.9h1V203.8h1V204h1V203.7h1V203.9h1V203.6h1V203.6h1V203.9h1V203.8h1V204.1h1V203.7h1V203.8h1V203.5h1V203.4h1V203.4h1V203.8h1V203.5h1V203.9h1V204h1V203.7h1V204h1V203.8h1V203.9h1V203.7h1V203.9h1V203.5h1V203.8h1V203.6h1V203.7h1V203.8h1V203.7h1V203.7h1V203.8h1V203.8h1V203.4h1V203.8h1V203.8h1V203.6h1V203.7h1V203.4h1V203.9h1V203.6h1V203.7h1V203.9h1V203.6h1V203.8h1V203.5h1V203.6h1V203.4h1V203.6h1V203.8h1V203.7h1V203.8h1V203.5h1V203.5h1V203.6h1V203.7h1V203.7h1V203.6h1V203.7h1V203.6h1V203.6h1V203.8h1V203.5h1V203.6h1V203.9h1V203.6h1V203.7h1V203.5h1V203.9h1V203.2h1V203.4h1V203.4h1V203.8h1V203.6h1V203.5h1V203.3h1V203.6h1V203.5h1V203.4h1V203.2h1V203.3h1V203.5h1V203.5h1V203.4h1V203.4h1V203.1h1V203.4h1V203.2h1V203.4h1V203.4h1V203.2h1V203.2h1V203.5h1V203.4h1V203.2h1V202.8h1V203.3h1V203.4h1V203.5h1V203.2h1V203.1h1V203.2h1V203.4h1V203h1V203.2h1V203.1h1V203.2h1V202.9h1V203.2h1V203.1h1V203.1h1V203.2h1V203.3h1V202.9h1V203.3h1V203.2h1V203h1V203.3h1V203.1h1V203.3h1V203h1V202.9h1V203.2h1V203.4h1V203.1h1V203.1h1V202.9h1V202.8h1V202.9h1V203.2h1V202.7h1V202.9h1V202.6h1V202.9h1V203.1h1V202.7h1V202.8h1V203.1h1V202.9h1V202.7h1V202.6h1V202.5h1V203h1V202.7h1V203h1V202.9h1V202.7h1V202.7h1V202.9h1V202.8h1V202.8h1V202.4h1V202.8h1V202.5h1V202.3h1V202.5h1V202.7h1V202.9h1V202.5h1V202.4h1V202.9h1V202.6h1V202.5h1V202.3h1V202.3h1V202.7h1V202.4h1V202.3h1V202.3h1V202.6h1V202.3h1V202.4h1V202.4h1V202.4h1V202.2h1V202.4h1V202.5h1V202.2h1V202.1h1V202h1V202.2h1V202.1h1V202.1h1V202.1h1V201.9h1V202.2h1V202.1h1V202.1h1V202.1h1V202.2h1V202h1V201.9h1V202.2h1V201.9h1V201.8h1V201.7h1V201.9h1V201.7h1V201.8h1V201.9h1V201.9h1V202h1V201.9h1V201.7h1V201.7h1V201.7h1V201.8h1V201.7h1V201.6h1V201.8h1V201.7h1V201.6h1V201.4h1V201.7h1V201.6h1V201.6h1V201.5h1V201.4h1V201.5h1V201.5h1V201.5h1V201.5h1V201.4h1V201.5h1V201.5h1V201.3h1V201.5h1V201.5h1V201.5h1V201.3h1V201.3h1V201.1h1V201.4h1V200.9h1V201.1h1V201.1h1V201.3h1V201.1h1V201h1V200.9h1V201h1V201h1V201h1V201h1V200.9h1V200.9h1V201.1h1V200.7h1V200.9h1V201.1h1V200.9h1V200.7h1V200.9h1V200.6h1V200.7h1V200.9h1V200.9h1V200.4h1V200.7h1V200.9h1V200.5h1V200.6h1V200.7h1V200.4h1V200.5h1V200.5h1V200.2h1V200.5h1V200.4h1V200.5h1V200.6h1V200.4h1V200.2h1V200.3h1V200.3h1V200.4h1V200h1V200h1V199.9h1V200.2h1V200.1h1V200h1V200h1V200h1V199.9h1V199.9h1V199.9h1V200.1h1V200h1V199.8h1V199.8h1V200h1V199.9h1V199.8h1V199.9h1V200h1V199.6h1V199.6h1V199.4h1V199.7h1V199.6h1V199.5h1V199.5h1V199.7h1V199.5h1V199.4h1V199.7h1V199.3h1V199.3h1V199.8h1V199.4h1V199.3h1V199.3h1V199.3h1V199.4h1V199.4h1V199.4h1V199.3h1V199.1h1V199.3h1V199.4h1V199.4h1V199.2h1V199.3h1V199.1h1V199.1h1V199h1V199.1h1V199.1h1V199.1h1V199.2h1V199.3h1V199.2h1V199h1V198.9h1V198.9h1V198.8h1V198.9h1V199h1V198.9h1V198.9h1V198.9h1V198.8h1V198.7h1V199h1V198.9h1V198.7h1V198.6h1V198.7h1V198.7h1V198.9h1V198.8h1V198.8h1V198.8h1V198.8h1V198.7h1V198.6h1V198.6h1V198.3h1V198.5h1V198.7h1V198.4h1V198.4h1V198.6h1V198.4h1V198.4h1V198.6h1V198.5h1V198.5h1V198.3h1V198.4h1V198.4h1V198.4h1V198.4h1V198.4h1V198.3h1V198.3h1V198.1h1V198.3h1V198.3h1V198.1h1V198h1V198.1h1V198h1V198.1h1V198.1h1V197.9h1V198h1V198.1h1V198.1h1V198.1h1V197.9h1V197.9h1V197.9h1V198h1V198.2h1V198h1V198h1V198h1V197.6h1V197.8h1V197.7h1V197.9h1V197.9h1V197.6h1V197.7h1V197.7h1V197.6h1V197.6h1V197.5h1V197.7h1V197.5h1V197.7h1V197.6h1V197.6h1V197.7h1V197.4h1V197.4h1V197.5h1V197.3h1V197.3h1V197.4h1V197.4h1V197.2h1V197.3h1V197.4h1V197.5h1V197.1h1V197.4h1V197.4h1V197.1h1V197.1h1V197.3h1V197.1h1V197.2h1V197.2h1V197.1h1V197.1h1V197.2h1V197.2h1V197.3h1V197.2h1V197.1h1V197h1V197.2h1V197h1V197h1V196.8h1V197h1V196.8h1V196.8h1V196.7h1V196.8h1V196.8h1V196.6h1V196.7h1V196.8h1V196.6h1V196.6h1V196.6h1V196.5h1V196.7h1V196.6h1V196.7h1V196.7h1V196.5h1V196.6h1V196.5h1V196.4h1V196.5h1V196.5h1V196.5h1V196.5h1V196.3h1V196.3h1V196.4h1V196.5h1V196.1h1V196.4h1V196.2h1V196.4h1V196.2h1V196.1h1V196.2h1V196.3h1V196.1h1V195.9h1V196.2h1V195.9h1V196h1V196h1V195.9h1V195.9h1V196h1V196h1V196h1V196h1V195.9h1V196h1V196.1h1V196.1h1V196h1V196.1h1V196.1h1V196.1h1V196.2h1V196h1V195.9h1V196.1h1V196.1h1V196.1h1V195.7h1V195.9h1V195.6h1V196h1V195.9h1V195.9h1V195.9h1V196h1V195.9h1V196h1V196h1V195.9h1V195.9h1V195.9h1V195.8h1V195.9h1V195.9h1V195.8h1V195.9h1V195.9h1V195.7h1V195.8h1V195.8h1V195.7h1V195.8h1V195.7h1V195.8h1V195.8h1V195.8h1V195.8h1V196h1V195.7h1V195.8h1V195.6h1V195.8h1V195.9h1V195.9h1V195.7h1V195.7h1V195.8h1V195.7h1V195.8h1V195.6h1V195.8h1V195.8h1V195.7h1V195.6h1V195.7h1V195.7h1V195.7h1V195.7h1V195.6h1V195.7h1V195.8h1V195.5h1V195.5h1V195.5h1V195.6h1V195.5h1V195.7h1V195.6h1V195.6h1V195.2h1V195h1V195h1V195h1V195h1V195h1V195h1V195h1V195h1V195h1V195h1V195h1V195h1V195h1V195h1V195h1V195h1V195h1V195h1V195h1V195h1V195h1V195h1V195h1V195h1V195h1V195h1V195h1V195h1V195h1V195h1V195h1V195h1V195h1V195h1V195h1V195h1V195h1V195h1V195h1V195h1V195h1V195h1V195h1V195h1V195h1V195h1V195h1V195h1V195h1V195h1V195h1V195h1V195h1V195h1V195h1V195h1V195h1V195h1V195h1V195h1V195h1V195h1V195h1V195h1V484Z" fill="#ffff55"/>
<path d="M106,484V239h1V255.4h1V255.5h1V255.2h1V255.6h1V255h1V255.7h1V254.5h1V255.2h1V255h1V255.6h1V254.9h1V255.8h1V254.9h1V255.9h1V255.4h1V255.3h1V255.4h1V255.9h1V255.5h1V254.7h1V255.6h1V255.3h1V254.8h1V255.5h1V254.9h1V255.3h1V255.3h1V255.1h1V255.4h1V255h1V255.3h1V255.1h1V255.2h1V255.7h1V255.2h1V254.9h1V255.2h1V255h1V255.2h1V255.2h1V255.2h1V255.2h1V255h1V255.3h1V255.4h1V255h1V255.1h1V255.2h1V255.5h1V255.4h1V254.9h1V255.1h1V254.7h1V254.8h1V255.1h1V255.3h1V255.3h1V255h1V254.7h1V255.2h1V255h1V255.2h1V255.1h1V255.2h1V255.2h1V255.3h1V254.9h1V255.3h1V254.9h1V255h1V255.5h1V255.1h1V254.7h1V255.4h1V255.2h1V255.3h1V255h1V255h1V254.8h1V254.7h1V255.3h1V254.8h1V254.7h1V254.7h1V255.3h1V255h1V254.7h1V254.8h1V254.9h1V255h1V254.3h1V254.9h1V254.6h1V254.5h1V254.6h1V254.8h1V255.1h1V254.6h1V254.7h1V254.4h1V254.7h1V254.7h1V254.1h1V254.4h1V254.7h1V254h1V254.4h1V254.6h1V254h1V254.3h1V254.4h1V254.6h1V254h1V254.6h1V254.4h1V254.6h1V254.6h1V254.4h1V254.4h1V253.8h1V253.9h1V254h1V254.1h1V254.4h1V253.7h1V254.1h1V253.8h1V253.7h1V254.5h1V254.1h1V254.5h1V254.3h1V253.8h1V253.6h1V254.5h1V253.9h1V253.7h1V254.1h1V254h1V253.8h1V253.8h1V253.9h1V253.9h1V254h1V253.8h1V253.7h1V254h1V253.9h1V254h1V253.7h1V253.7h1V253.4h1V254.1h1V253.3h1V253.7h1V253.4h1V253.7h1V253.7h1V253.1h1V253.5h1V253.1h1V253.8h1V253.3h1V253h1V253.2h1V253.6h1V253.7h1V253.6h1V253h1V253.2h1V253.6h1V253h1V253h1V252.9h1V252.8h1V253.3h1V253.1h1V253.1h1V253.1h1V253.1h1V253.2h1V252.8h1V252.7h1V252.5h1V253h1V252.6h1V252.3h1V252.6h1V252.6h1V252.8h1V252.8h1V252.4h1V252.3h1V252.4h1V252.2h1V252.4h1V252.5h1V252.4h1V252h1V252h1V252.6h1V252h1V252.4h1V252.3h1V252.1h1V251.9h1V252.1h1V251.9h1V252h1V252h1V251.8h1V251.9h1V251.8h1V251.6h1V251.8h1V251.7h1V251.4h1V251.7h1V251.7h1V251.6h1V251.2h1V251.8h1V251.8h1V251.7h1V251.6h1V251.2h1V251.5h1V251.3h1V251.9h1V251.3h1V251.5h1V251h1V251.1h1V251.2h1V251.4h1V251.3h1V251.2h1V250.7h1V251.3h1V250.8h1V251.3h1V251.3h1V251.1h1V251.1h1V250.5h1V251.3h1V250.8h1V250.9h1V250.4h1V250.6h1V250.3h1V250.4h1V250.5h1V250.5h1V250.7h1V250.4h1V250.3h1V250.2h1V250.6h1V250h1V250.4h1V249.6h1V249.8h1V250.1h1V249.9h1V250.5h1V250.4h1V249.5h1V249.5h1V249.7h1V250h1V249.9h1V249.6h1V249.2h1V249.3h1V248.9h1V249.1h1V249.4h1V249.5h1V249h1V249.2h1V249.5h1V249.2h1V249h1V249.2h1V249.1h1V249h1V248.8h1V248.8h1V248.8h1V248.7h1V249h1V248.9h1V248.9h1V249h1V248.9h1V248.8h1V248.6h1V248.4h1V248.9h1V248.2h1V248.2h1V248.1h1V248.3h1V248.3h1V248.3h1V248h1V247.7h1V248.1h1V248.2h1V247.9h1V247.8h1V247.9h1V248.1h1V247.7h1V247.4h1V247.6h1V247.6h1V247.3h1V247.7h1V247.4h1V247.6h1V247.5h1V247.4h1V247.8h1V247.3h1V247.2h1V247.4h1V247.5h1V247.3h1V247h1V247.3h1V247.3h1V247.5h1V247.1h1V247.1h1V246.9h1V246.7h1V247h1V247.1h1V246.7h1V246.7h1V246.6h1V247.1h1V246.7h1V246.9h1V246.5h1V246.7h1V246.5h1V246.2h1V246.6h1V246.7h1V246.1h1V246.4h1V246.4h1V246.2h1V246.3h1V246h1V246.4h1V246.5h1V246h1V246.2h1V246.5h1V246.2h1V246h1V245.9h1V246.1h1V246h1V246.1h1V245.7h1V246.1h1V245.8h1V246h1V245.7h1V245.6h1V245.7h1V245.6h1V245.6h1V245.8h1V245.8h1V245.6h1V245.5h1V245.5h1V245.6h1V245.7h1V245.4h1V245.4h1V245.2h1V245.4h1V245.5h1V244.7h1V245.3h1V245.1h1V244.8h1V245.2h1V245.1h1V245.2h1V244.8h1V245.4h1V245h1V244.9h1V245.2h1V245h1V245h1V245h1V244.4h1V245.1h1V244.7h1V244.7h1V244.8h1V244.5h1V244.7h1V244.7h1V244.5h1V244.6h1V244.2h1V244.2h1V244.2h1V244.4h1V245h1V244.4h1V244.2h1V244.2h1V244.4h1V244.3h1V243.9h1V244.3h1V244.1h1V244.2h1V243.7h1V243.7h1V244.1h1V243.6h1V244h1V243.9h1V243.8h1V243.8h1V243.8h1V243.8h1V243.6h1V243.7h1V244.1h1V243.8h1V243.7h1V243.6h1V243.4h1V243.5h1V243.4h1V243.6h1V243.2h1V242.9h1V243.2h1V243.4h1V243.7h1V243.4h1V243h1V243.1h1V242.9h1V243h1V242.9h1V242.7h1V243h1V243h1V242.9h1V242.9h1V243.2h1V242.8h1V242.7h1V242.9h1V242.4h1V242.8h1V242.5h1V242.5h1V242.6h1V242.8h1V242.4h1V242.6h1V242.5h1V242.1h1V242.5h1V242.1h1V242h1V242h1V242h1V242.2h1V241.9h1V242.2h1V242h1V241.8h1V241.7h1V241.8h1V241.4h1V241.4h1V241.6h1V241.8h1V241.7h1V241.7h1V241.6h1V241.3h1V241.6h1V241.3h1V241.8h1V241.6h1V241.6h1V241.7h1V241.6h1V241.6h1V241.6h1V241.5h1V241.3h1V241.6h1V241.8h1V241.7h1V241.5h1V241.6h1V241.4h1V241.5h1V241.4h1V241.5h1V241.8h1V241.6h1V241.7h1V241.3h1V241.3h1V241.4h1V241.5h1V241.4h1V241.5h1V241.3h1V241.6h1V241.5h1V241.2h1V241.4h1V241.3h1V241.5h1V241.2h1V241.3h1V241.4h1V240.9h1V241h1V241.3h1V241.2h1V241.4h1V241.3h1V241h1V241.3h1V241.1h1V241.2h1V241.1h1V241.2h1V241h1V241h1V240.8h1V241.5h1V241h1V241h1V240.9h1V241h1V241h1V241.2h1V241.1h1V241.1h1V241h1V241h1V241.2h1V241h1V241.1h1V240.7h1V241.1h1V241h1V241.2h1V240.6h1V241h1V240.9h1V241h1V240.9h1V241h1V241h1V240.9h1V240.9h1V240.4h1V240h1V240h1V240h1V240h1V240h1V240h1V240h1V240h1V240h1V240h1V240h1V240h1V240h1V240h1V240h1V240h1V240h1V240h1V240h1V240h1V240h1V240h1V240h1V240h1V240h1V240h1V240h1V240h1V240h1V240h1V240h1V240h1V240h1V240h1V240h1V240h1V240h1V240h1V240h1V240h1V240h1V240h1V240h1V240h1V240h1V240h1V240h1V240h1V240h1V240h1V240h1V240h1V240h1V240h1V240h1V240h1V240h1V240h1V240h1V240h1V240h1V240h1V240h1V240h1V484Z" fill="#55ff55"/>
<path d="M106,484V243h1V259.5h1V259.3h1V258.9h1V259.9h1V259h1V259.4h1V259.1h1V259.4h1V259.2h1V259.4h1V259.2h1V259.1h1V259.5h1V259.8h1V259.5h1V259.4h1V259.1h1V259.4h1V259.5h1V259.2h1V259.6h1V259.4h1V259.5h1V259.2h1V259.2h1V259.4h1V259.4h1V259.4h1V259.1h1V259.1h1V259.3h1V258.8h1V259.6h1V259.4h1V259.3h1V259.1h1V259.5h1V259.2h1V259.8h1V259.4h1V258.9h1V259.5h1V259.1h1V259.1h1V259.2h1V259.2h1V259.3h1V259.4h1V259.3h1V259h1V258.8h1V259h1V259.3h1V259.4h1V259.7h1V258.8h1V259.2h1V259.1h1V259.1h1V259.2h1V259.1h1V259.1h1V259h1V259.2h1V259.4h1V259.6h1V259h1V258.8h1V259h1V258.9h1V259.4h1V258.9h1V259.1h1V258.7h1V259h1V259.1h1V259.4h1V258.8h1V259.1h1V258.4h1V258.6h1V258.7h1V258.8h1V259h1V259h1V258.4h1V259h1V258.5h1V259.2h1V258.8h1V258.8h1V258.7h1V258.7h1V258.7h1V258.5h1V258.8h1V258.7h1V258.8h1V258.6h1V258.7h1V258.3h1V259.4h1V258.3h1V258.4h1V258.7h1V258.7h1V258.2h1V258h1V258h1V258.1h1V258.1h1V258.3h1V258.6h1V258.5h1V258.1h1V258.4h1V258.4h1V258.5h1V258.1h1V258h1V258.3h1V258.5h1V258h1V258.6h1V258.5h1V258h1V257.6h1V257.8h1V257.9h1V258.1h1V257.5h1V258.5h1V258.5h1V257.7h1V257.4h1V257.8h1V257.9h1V258.1h1V257.9h1V257.7h1V257.2h1V257.8h1V257.9h1V257.6h1V257.7h1V257.7h1V257.6h1V257.3h1V257.7h1V257.2h1V257.9h1V257.3h1V257.6h1V257.3h1V257.5h1V257.4h1V257.5h1V257.2h1V256.9h1V257.2h1V257.2h1V256.9h1V257h1V256.8h1V257.2h1V257h1V257.1h1V257.7h1V257h1V257.1h1V257.1h1V256.9h1V256.7h1V257.1h1V257.1h1V256.1h1V256.7h1V256.6h1V256.6h1V256.9h1V256.5h1V256.8h1V256.4h1V256.4h1V256.7h1V256.3h1V256.4h1V256.1h1V256.2h1V256.5h1V256.4h1V256h1V256h1V256.8h1V256h1V256h1V256.2h1V255.9h1V256h1V256.2h1V256.2h1V255.9h1V256.2h1V255.9h1V255.8h1V255.8h1V255.7h1V255.9h1V255.8h1V255.5h1V255.7h1V255.5h1V255.5h1V255.6h1V255.8h1V255.6h1V255.8h1V255.8h1V255.4h1V255.3h1V255.2h1V255.4h1V255.5h1V255.6h1V255h1V255.4h1V255.4h1V255.7h1V255.2h1V255.1h1V254.7h1V254.9h1V254.8h1V254.7h1V254.7h1V254.5h1V254.8h1V254.9h1V254.9h1V254.7h1V254.9h1V254.8h1V254.2h1V254.5h1V254.2h1V254.2h1V254.4h1V254.3h1V254.6h1V254.7h1V254.3h1V254.1h1V254.1h1V254.1h1V254.2h1V253.8h1V254.1h1V253.9h1V254.1h1V254.1h1V254.2h1V253.7h1V253.4h1V253.3h1V253.5h1V253.3h1V253.2h1V253.4h1V253.2h1V253.5h1V253.8h1V253.3h1V253.3h1V252.9h1V253.2h1V253h1V252.9h1V252.6h1V253.3h1V252.6h1V252.7h1V252.9h1V252.9h1V252.8h1V252.8h1V252.5h1V252.8h1V252.6h1V252.3h1V252.9h1V252.4h1V252.6h1V252.1h1V252.1h1V252.2h1V252.1h1V252.4h1V251.8h1V252.2h1V251.9h1V252.1h1V252h1V251.8h1V252.4h1V251.9h1V252h1V251.5h1V251.7h1V251.7h1V251.7h1V251.5h1V251.4h1V250.9h1V251.4h1V251.3h1V251.4h1V251.6h1V251.8h1V251.4h1V251.5h1V251.4h1V251.4h1V251.3h1V251.1h1V251.1h1V251.2h1V251.4h1V251.2h1V251.3h1V250.7h1V251h1V251h1V251h1V250.6h1V250.4h1V250.4h1V250.7h1V251.2h1V250.7h1V250.4h1V250.7h1V250.5h1V250.6h1V250.4h1V250.2h1V250.4h1V250.6h1V250.5h1V250.6h1V250.1h1V250.5h1V250.3h1V250.3h1V250.5h1V250.2h1V250.2h1V250.2h1V250.2h1V250.2h1V250.3h1V250.1h1V249.9h1V250.4h1V249.9h1V249.9h1V249.7h1V249.4h1V249.6h1V249.7h1V249.8h1V249.7h1V249.8h1V249.8h1V249.8h1V249.5h1V249.5h1V249.4h1V249.3h1V249.7h1V249.2h1V249.3h1V249.4h1V248.9h1V249.4h1V249.2h1V249.2h1V249.1h1V248.8h1V249.1h1V249.1h1V249.2h1V249.1h1V248.7h1V249.1h1V249.1h1V249h1V248.9h1V248.7h1V248.9h1V248.7h1V249.2h1V248.6h1V248.5h1V248.6h1V248.9h1V248.5h1V248.1h1V248.8h1V248.5h1V248.3h1V248.5h1V248.2h1V248.1h1V248.5h1V248.2h1V248.3h1V248.2h1V248.3h1V248.2h1V247.7h1V248.2h1V248h1V248.2h1V248h1V248.2h1V247.9h1V247.5h1V247.8h1V247.9h1V247.7h1V247.7h1V248h1V247.7h1V247.9h1V247.7h1V247.3h1V247.4h1V247.5h1V247.6h1V247.3h1V247.2h1V247.2h1V247.3h1V247.2h1V247.2h1V247.6h1V247.3h1V247.1h1V247.2h1V247.4h1V247.2h1V247.1h1V246.8h1V246.7h1V246.9h1V246.9h1V246.7h1V246.7h1V246.9h1V246.5h1V246.5h1V246.8h1V246.8h1V246.8h1V246.8h1V246.9h1V246.8h1V246.5h1V246.9h1V246.8h1V246.6h1V246.3h1V246.5h1V246h1V246.3h1V245.9h1V246.2h1V246.4h1V246.2h1V246.4h1V246.1h1V246.1h1V246h1V246.1h1V245.9h1V246.1h1V246.1h1V245.9h1V245.6h1V245.8h1V245.9h1V245.8h1V245.7h1V245.8h1V245.8h1V245.2h1V245.8h1V245.7h1V245.6h1V245.5h1V245.6h1V245.6h1V245.3h1V245.7h1V245.5h1V245.8h1V245.6h1V245.5h1V245.5h1V245.6h1V245.5h1V245.6h1V245.4h1V245.3h1V245.4h1V245.2h1V245.3h1V245.5h1V245.2h1V245.2h1V245.5h1V245.3h1V245.4h1V245.2h1V245.2h1V245.3h1V245.6h1V245.4h1V245.1h1V245.4h1V245.5h1V245.4h1V245.2h1V245.3h1V245.6h1V245.2h1V245.4h1V245.2h1V245.1h1V245.2h1V245.4h1V245.4h1V245.1h1V245.2h1V245.1h1V244.9h1V245.3h1V245.5h1V245.4h1V245.2h1V245.4h1V245.4h1V245.1h1V245.2h1V245.1h1V245.2h1V245.4h1V245h1V245h1V245.3h1V245.2h1V244.9h1V245h1V245h1V245h1V245.2h1V245.2h1V245.1h1V245.1h1V245h1V245.2h1V245.3h1V245h1V245h1V245.3h1V245.2h1V244.9h1V244.8h1V245h1V245.2h1V244.4h1V244h1V244h1V244h1V244h1V244h1V244h1V244h1V244h1V244h1V244h1V244h1V244h1V244h1V244h1V244h1V244h1V244h1V244h1V244h1V244h1V244h1V244h1V244h1V244h1V244h1V244h1V244h1V244h1V244h1V244h1V244h1V244h1V244h1V244h1V244h1V244h1V244h1V244h1V244h1V244h1V244h1V244h1V244h1V244h1V244h1V244h1V244h1V244h1V244h1V244h1V244h1V244h1V244h1V244h1V244h1V244h1V244h1V244h1V244h1V244h1V244h1V244h1V244h1V244h1V484Z" fill="#5555ff"/>
<path d="M106,484V437h1V437.2h1V437.4h1V437.6h1V437.2h1V437.3h1V437.3h1V437.3h1V437.2h1V437.5h1V437.4h1V437.5h1V437.7h1V437.4h1V437.5h1V437.4h1V437.5h1V437.6h1V437.5h1V437.3h1V437.8h1V437.6h1V437.4h1V437.2h1V437.6h1V437.7h1V437.8h1V437.8h1V437.6h1V437.7h1V437.4h1V437.7h1V437.8h1V437.6h1V437.7h1V437.7h1V437.7h1V438h1V437.6h1V438h1V437.6h1V437.7h1V437.7h1V437.8h1V437.7h1V437.9h1V437.8h1V438.2h1V437.9h1V437.8h1V437.9h1V438h1V437.8h1V437.7h1V437.8h1V437.9h1V438h1V438h1V437.9h1V438h1V437.9h1V438h1V438.1h1V438.1h1V438.2h1V437.9h1V438h1V437.8h1V438.1h1V437.9h1V437.8h1V437.9h1V438.1h1V437.7h1V437.8h1V438.2h1V438.1h1V438h1V437.8h1V438.3h1V438.2h1V438.2h1V437.9h1V438.2h1V438.3h1V438.1h1V438.1h1V438.1h1V438.2h1V438.1h1V438.1h1V438h1V437.9h1V438.3h1V438.4h1V438.3h1V438.4h1V438.1h1V438.2h1V438.3h1V438.2h1V438.5h1V438.1h1V438.2h1V438.2h1V438.2h1V438.4h1V438h1V438.4h1V438.4h1V438.3h1V438.5h1V438.6h1V438.3h1V438.4h1V438.4h1V438.4h1V438.3h1V438.3h1V438.4h1V438.3h1V438.5h1V438.5h1V438.3h1V438.4h1V438.4h1V438.4h1V438.6h1V438.4h1V438.5h1V438.2h1V438.5h1V438.3h1V438.4h1V438.7h1V438.7h1V438.4h1V438.3h1V438.6h1V438.5h1V438.6h1V438.3h1V438.7h1V438.7h1V438.4h1V438.5h1V438.5h1V438.7h1V438.3h1V438.6h1V438.6h1V438.5h1V438.7h1V438.4h1V438.4h1V438.5h1V438.7h1V438.6h1V438.5h1V438.7h1V438.6h1V438.6h1V438.6h1V438.7h1V439.1h1V438.6h1V438.8h1V438.7h1V438.7h1V438.9h1V438.9h1V438.9h1V438.7h1V438.7h1V438.8h1V438.8h1V438.7h1V438.9h1V438.7h1V438.7h1V438.9h1V438.8h1V439h1V438.8h1V439h1V438.8h1V439.1h1V439h1V439h1V439.1h1V439h1V438.9h1V439.1h1V439h1V439.1h1V439h1V439.1h1V438.9h1V438.9h1V438.8h1V439.1h1V438.8h1V438.8h1V438.9h1V439.1h1V439.1h1V439h1V439.2h1V439.1h1V439.3h1V439.2h1V439h1V439.2h1V439.1h1V439.2h1V439.2h1V439.2h1V439.3h1V439.2h1V439.3h1V439.2h1V439.2h1V439.3h1V439.3h1V439.4h1V439.3h1V439.2h1V439.3h1V439.3h1V439.1h1V439.2h1V439.5h1V439.3h1V439h1V439.3h1V439.4h1V439.2h1V439.6h1V439.5h1V439.5h1V439.4h1V439.4h1V439.5h1V439.5h1V439.3h1V439.4h1V439.4h1V439.5h1V439.3h1V439.5h1V439.5h1V439.5h1V439.5h1V439.3h1V439.6h1V439.6h1V439.4h1V439.5h1V439.4h1V439.5h1V439.7h1V439.6h1V439.8h1V439.6h1V439.5h1V439.6h1V439.3h1V439.8h1V439.6h1V439.7h1V439.7h1V439.5h1V439.6h1V439.6h1V439.6h1V439.7h1V439.5h1V439.9h1V439.6h1V439.8h1V439.6h1V439.6h1V439.8h1V439.8h1V439.7h1V439.8h1V439.7h1V439.8h1V439.7h1V439.8h1V439.9h1V439.7h1V439.8h1V439.7h1V439.7h1V439.7h1V439.8h1V439.9h1V439.9h1V439.7h1V440h1V440h1V439.9h1V439.8h1V439.8h1V440.1h1V440.1h1V440h1V439.9h1V440.1h1V440h1V440.2h1V439.9h1V440h1V440h1V440.1h1V439.9h1V440.1h1V440h1V439.9h1V440.1h1V440.1h1V439.8h1V440.1h1V440.1h1V440.1h1V440.3h1V440h1V440.1h1V439.9h1V440h1V440.1h1V440.1h1V440.1h1V440.2h1V440.2h1V440.3h1V440.1h1V440.2h1V440.1h1V440.2h1V440.2h1V440.1h1V439.9h1V440.1h1V440.5h1V440.2h1V440.2h1V440.2h1V440.4h1V440.3h1V440.2h1V440.1h1V440.2h1V440.1h1V440.3h1V440.4h1V440.4h1V440.2h1V440.2h1V440.2h1V440.4h1V440.4h1V440.4h1V440.4h1V440.2h1V440.2h1V440.5h1V440.3h1V440.6h1V440.2h1V440.3h1V440.3h1V440.4h1V440.5h1V440.4h1V440.5h1V440.3h1V440.4h1V440.3h1V440.4h1V440.4h1V440.5h1V440.8h1V440.3h1V440.5h1V440.5h1V440.5h1V440.6h1V440.4h1V440.6h1V440.4h1V440.6h1V440.5h1V440.6h1V440.5h1V440.4h1V440.4h1V440.6h1V440.5h1V440.6h1V440.5h1V440.7h1V440.7h1V440.4h1V440.6h1V440.8h1V440.5h1V440.7h1V440.6h1V440.7h1V440.6h1V440.6h1V440.6h1V440.6h1V440.6h1V440.6h1V440.8h1V440.6h1V440.6h1V440.6h1V440.8h1V440.5h1V440.8h1V440.8h1V440.9h1V440.7h1V440.7h1V440.8h1V440.8h1V440.9h1V440.8h1V440.7h1V440.7h1V440.8h1V440.8h1V440.9h1V440.8h1V441h1V441h1V440.8h1V440.7h1V440.8h1V440.8h1V440.8h1V440.9h1V440.9h1V441h1V440.9h1V440.9h1V440.9h1V440.8h1V440.9h1V440.9h1V441h1V440.7h1V441h1V441h1V441h1V441h1V441h1V441.1h1V441.1h1V441h1V441.2h1V441h1V441.1h1V441.1h1V440.9h1V441.1h1V441h1V441.1h1V441h1V440.9h1V441h1V441.1h1V441.1h1V441.1h1V441h1V441.2h1V441.1h1V441.1h1V441.2h1V441.1h1V441h1V441.2h1V441.1h1V441.1h1V441.3h1V441.1h1V441.2h1V441.2h1V441.4h1V441h1V441.2h1V441.2h1V441.3h1V441.2h1V441.2h1V441.3h1V441.2h1V441.2h1V441.2h1V441.3h1V441.1h1V441.2h1V441.2h1V441.2h1V441.3h1V441.3h1V441.3h1V441.2h1V441.3h1V441.2h1V441.2h1V441.1h1V441.2h1V441.3h1V441.3h1V441.1h1V441.3h1V441.2h1V441.2h1V441.3h1V441.2h1V441.3h1V441.4h1V441.2h1V441.4h1V441.3h1V441.3h1V441.4h1V441.3h1V441.3h1V441.3h1V441.3h1V441.2h1V441.4h1V441.3h1V441.2h1V441.2h1V441.4h1V441.2h1V441.5h1V441.2h1V441.3h1V441.1h1V441.3h1V441.3h1V441.4h1V441.3h1V441.3h1V441.5h1V441.4h1V441.3h1V441.4h1V441.1h1V441.3h1V441.4h1V441.3h1V441.4h1V441.3h1V441.4h1V441.4h1V441.4h1V441.4h1V441.5h1V441.4h1V441.2h1V441.4h1V441.4h1V441.3h1V441.3h1V441.3h1V441.4h1V441.4h1V441.3h1V441.4h1V441.4h1V441.4h1V441.4h1V441.4h1V441.5h1V441.5h1V441.5h1V441.5h1V441.5h1V441.5h1V441.5h1V441.5h1V441.5h1V441.5h1V441.5h1V441.5h1V441.5h1V441.5h1V441.5h1V441.5h1V441.5h1V441.5h1V441.5h1V441.5h1V441.5h1V441.5h1V441.5h1V441.5h1V441.5h1V441.5h1V441.5h1V441.5h1V441.5h1V441.5h1V441.5h1V441.5h1V441.5h1V441.5h1V441.5h1V441.5h1V441.5h1V441.5h1V441.5h1V441.5h1V441.5h1V441.5h1V441.5h1V441.5h1V441.5h1V441.5h1V441.5h1V441.5h1V441.5h1V441.5h1V441.5h1V441.5h1V441.5h1V441.5h1V441.5h1V441.5h1V441.5h1V441.5h1V441.5h1V441.5h1V441.5h1V441.5h1V441.5h1V441.5h1V484Z" fill="#ff5555"/>
<rect x="107" y="55.4" width="1" height="428.6" fill="#fff" fill-opacity="0.14"/>
<rect x="108" y="55.4" width="1" height="428.6" fill="#fff" fill-opacity="0.12"/>
<rect x="109" y="55.4" width="1" height="428.6" fill="#fff" fill-opacity="0.08"/>
<rect x="110" y="55.4" width="1" height="428.6" fill="#fff" fill-opacity="0.06"/>
<rect x="111" y="55.4" width="1" height="428.6" fill="#fff" fill-opacity="0.04"/>
<rect x="112" y="55.4" width="1" height="428.6" fill="#fff" fill-opacity="1"/>
<rect x="118" y="55.4" width="1" height="428.6" fill="#fff" fill-opacity="0.16"/>
<rect x="119" y="55.4" width="1" height="428.6" fill="#fff" fill-opacity="0.12"/>
<rect x="120" y="55.4" width="1" height="428.6" fill="#fff" fill-opacity="0.1"/>
<rect x="121" y="55.4" width="1" height="428.6" fill="#fff" fill-opacity="0.08"/>
<rect x="122" y="55.4" width="1" height="428.6" fill="#fff" fill-opacity="0.04"/>
<rect x="123" y="55.4" width="1" height="428.6" fill="#fff" fill-opacity="1"/>
<rect x="130" y="55.4" width="1" height="428.6" fill="#fff" fill-opacity="0.14"/>
<rect x="131" y="55.4" width="1" height="428.6" fill="#fff" fill-opacity="0.12"/>
<rect x="132" y="55.4" width="1" height="428.6" fill="#fff" fill-opacity="0.1"/>
<rect x="133" y="55.4" width="1" height="428.6" fill="#fff" fill-opacity="0.06"/>
<rect x="134" y="55.4" width="1" height="428.6" fill="#fff" fill-opacity="0.04"/>
<rect x="135" y="55.4" width="1" height="428.6" fill="#fff" fill-opacity="1"/>
<rect x="141" y="55.4" width="1" height="428.6" fill="#fff" fill-opacity="0.16"/>
<rect x="142" y="55.4" width="1" height="428.6" fill="#fff" fill-opacity="0.14"/>
<rect x="143" y="55.4" width="1" height="428.6" fill="#fff" fill-opacity="0.1"/>
<rect x="144" y="55.4" width="1" height="428.6" fill="#fff" fill-opacity="0.08"/>
<rect x="145" y="55.4" width="1" height="428.6" fill="#fff" fill-opacity="0.06"/>
<rect x="146" y="55.4" width="1" height="428.6" fill="#fff" fill-opacity="0.04"/>
<rect x="147" y="55.4" width="1" height="428.6" fill="#fff" fill-opacity="1"/>
<rect x="153" y="55.4" width="1" height="428.6" fill="#fff" fill-opacity="0.16"/>
<rect x="154" y="55.4" width="1" height="428.6" fill="#fff" fill-opacity="0.12"/>
<rect x="155" y="55.4" width="1" height="428.6" fill="#fff" fill-opacity="0.1"/>
<rect x="156" y="55.4" width="1" height="428.6" fill="#fff" fill-opacity="0.08"/>
<rect x="157" y="55.4" width="1" height="428.6" fill="#fff" fill-opacity="0.04"/>
<rect x="158" y="55.4" width="1" height="428.6" fill="#fff" fill-opacity="1"/>
<rect x="165" y="55.4" width="1" height="428.6" fill="#fff" fill-opacity="0.14"/>
<rect x="166" y="55.4" width="1" height="428.6" fill="#fff" fill-opacity="0.12"/>
<rect x="167" y="55.4" width="1" height="428.6" fill="#fff" fill-opacity="0.08"/>
<rect x="168" y="55.4" width="1" height="428.6" fill="#fff" fill-opacity="0.06"/>
<rect x="169" y="55.4" width="1" height="428.6" fill="#fff" fill-opacity="0.04"/>
<rect x="170" y="55.4" width="1" height="428.6" fill="#fff" fill-opacity="1"/>
<rect x="176" y="55.4" width="1" height="428.6" fill="#fff" fill-opacity="0.16"/>
<rect x="177" y="55.4" width="1" height="428.6" fill="#fff" fill-opacity="0.14"/>
<rect x="178" y="55.4" width="1" height="428.6" fill="#fff" fill-opacity="0.1"/>
<rect x="179" y="55.4" width="1" height="428.6" fill="#fff" fill-opacity="0.08"/>
<rect x="180" y="55.4" width="1" height="428.6" fill="#fff" fill-opacity="0.06"/>
<rect x="181" y="55.4" width="1" height="428.6" fill="#fff" fill-opacity="0.04"/>
<rect x="182" y="55.4" width="1" height="428.6" fill="#fff" fill-opacity="1"/>
<rect x="188" y="55.4" width="1" height="428.6" fill="#fff" fill-opacity="0.16"/>
<rect x="189" y="55.4" width="1" height="428.6" fill="#fff" fill-opacity="0.12"/>
<rect x="190" y="55.4" width="1" height="428.6" fill="#fff" fill-opacity="0.1"/>
<rect x="191" y="55.4" width="1" height="428.6" fill="#fff" fill-opacity="0.06"/>
<rect x="192" y="55.4" width="1" height="428.6" fill="#fff" fill-opacity="0.04"/>
<rect x="193" y="55.4" width="1" height="428.6" fill="#fff" fill-opacity="1"/>
<rect x="200" y="55.4" width="1" height="428.6" fill="#fff" fill-opacity="0.14"/>
<rect x="201" y="55.4" width="1" height="428.6" fill="#fff" fill-opacity="0.12"/>
<rect x="202" y="55.4" width="1" height="428.6" fill="#fff" fill-opacity="0.08"/>
<rect x="203" y="55.4" width="1" height="428.6" fill="#fff" fill-opacity="0.06"/>
<rect x="204" y="55.4" width="1" height="428.6" fill="#fff" fill-opacity="0.04"/>
<rect x="205" y="55.4" width="1" height="428.6" fill="#fff" fill-opacity="1"/>
<rect x="211" y="55.4" width="1" height="428.6" fill="#fff" fill-opacity="0.16"/>
<rect x="212" y="55.4" width="1" height="428.6" fill="#fff" fill-opacity="0.12"/>
<rect x="213" y="55.4" width="1" height="428.6" fill="#fff" fill-opacity="0.1"/>
<rect x="214" y="55.4" width="1" height="428.6" fill="#fff" fill-opacity="0.08"/>
<rect x="215" y="55.4" width="1" height="428.6" fill="#fff" fill-opacity="0.06"/>
<rect x="216" y="55.4" width="1" height="428.6" fill="#fff" fill-opacity="0.04"/>
<rect x="223" y="55.4" width="1" height="428.6" fill="#fff" fill-opacity="0.14"/>
<rect x="224" y="55.4" width="1" height="428.6" fill="#fff" fill-opacity="0.12"/>
<rect x="225" y="55.4" width="1" height="428.6" fill="#fff" fill-opacity="0.1"/>
<rect x="226" y="55.4" width="1" height="428.6" fill="#fff" fill-opacity="0.06"/>
<rect x="227" y="55.4" width="1" height="428.6" fill="#fff" fill-opacity="0.04"/>
<rect x="228" y="55.4" width="1" height="428.6" fill="#fff" fill-opacity="1"/>
<rect x="234" y="55.4" width="1" height="428.6" fill="#fff" fill-opacity="0.16"/>
<rect x="235" y="55.4" width="1" height="428.6" fill="#fff" fill-opacity="0.14"/>
<rect x="236" y="55.4" width="1" height="428.6" fill="#fff" fill-opacity="0.1"/>
<rect x="237" y="55.4" width="1" height="428.6" fill="#fff" fill-opacity="0.08"/>
<rect x="238" y="55.4" width="1" height="428.6" fill="#fff" fill-opacity="0.06"/>
<rect x="239" y="55.4" width="1" height="428.6" fill="#fff" fill-opacity="0.04"/>
<rect x="240" y="55.4" width="1" height="428.6" fill="#fff" fill-opacity="1"/>
<rect x="246" y="55.4" width="1" height="428.6" fill="#fff" fill-opacity="0.16"/>
<rect x="247" y="55.4" width="1" height="428.6" fill="#fff" fill-opacity="0.12"/>
<rect x="248" y="55.4" width="1" height="428.6" fill="#fff" fill-opacity="0.1"/>
<rect x="249" y="55.4" width="1" height="428.6" fill="#fff" fill-opacity="0.08"/>
<rect x="250" y="55.4" width="1" height="428.6" fill="#fff" fill-opacity="0.04"/>
<rect x="251" y="55.4" width="1" height="428.6" fill="#fff" fill-opacity="1"/>
<rect x="258" y="55.4" width="1" height="428.6" fill="#fff" fill-opacity="0.14"/>
<rect x="259" y="55.4" width="1" height="428.6" fill="#fff" fill-opacity="0.12"/>
<rect x="260" y="55.4" width="1" height="428.6" fill="#fff" fill-opacity="0.08"/>
<rect x="261" y="55.4" width="1" height="428.6" fill="#fff" fill-opacity="0.06"/>
<rect x="262" y="55.4" width="1" height="428.6" fill="#fff" fill-opacity="0.04"/>
<rect x="263" y="55.4" width="1" height="428.6" fill="#fff" fill-opacity="1"/>
<rect x="269" y="55.4" width="1" height="428.6" fill="#fff" fill-opacity="0.16"/>
<rect x="270" y="55.4" width="1" height="428.6" fill="#fff" fill-opacity="0.14"/>
<rect x="271" y="55.4" width="1" height="428.6" fill="#fff" fill-opacity="0.1"/>
<rect x="272" y="55.4" width="1" height="428.6" fill="#fff" fill-opacity="0.08"/>
<rect x="273" y="55.4" width="1" height="428.6" fill="#fff" fill-opacity="0.06"/>
<rect x="274" y="55.4" width="1" height="428.6" fill="#fff" fill-opacity="0.04"/>
<rect x="275" y="55.4" width="1" height="428.6" fill="#fff" fill-opacity="1"/>
<rect x="281" y="55.4" width="1" height="428.6" fill="#fff" fill-opacity="0.16"/>
<rect x="282" y="55.4" width="1" height="428.6" fill="#fff" fill-opacity="0.12"/>
<rect x="283" y="55.4" width="1" height="428.6" fill="#fff" fill-opacity="0.1"/>
<rect x="284" y="55.4" width="1" height="428.6" fill="#fff" fill-opacity="0.06"/>
<rect x="285" y="55.4" width="1" height="428.6" fill="#fff" fill-opacity="0.04"/>
<rect x="286" y="55.4" width="1" height="428.6" fill="#fff" fill-opacity="1"/>
<rect x="293" y="55.4" width="1" height="428.6" fill="#fff" fill-opacity="0.14"/>
<rect x="294" y="55.4" width="1" height="428.6" fill="#fff" fill-opacity="0.12"/>
<rect x="295" y="55.4" width="1" height="428.6" fill="#fff" fill-opacity="0.08"/>
<rect x="296" y="55.4" width="1" height="428.6" fill="#fff" fill-opacity="0.06"/>
<rect x="297" y="55.4" width="1" height="428.6" fill="#fff" fill-opacity="0.04"/>
<rect x="298" y="55.4" width="1" height="428.6" fill="#fff" fill-opacity="1"/>
<rect x="304" y="55.4" width="1" height="428.6" fill="#fff" fill-opacity="0.16"/>
<rect x="305" y="55.4" width="1" height="428.6" fill="#fff" fill-opacity="0.14"/>
<rect x="306" y="55.4" width="1" height="428.6" fill="#fff" fill-opacity="0.1"/>
<rect x="307" y="55.4" width="1" height="428.6" fill="#fff" fill-opacity="0.08"/>
<rect x="308" y="55.4" width="1" height="428.6" fill="#fff" fill-opacity="0.06"/>
<rect x="309" y="55.4" width="1" height="428.6" fill="#fff" fill-opacity="0.04"/>
<rect x="316" y="55.4" width="1" height="428.6" fill="#fff" fill-opacity="0.14"/>
<rect x="317" y="55.4" width="1" height="428.6" fill="#fff" fill-opacity="0.12"/>
<rect x="318" y="55.4" width="1" height="428.6" fill="#fff" fill-opacity="0.1"/>
<rect x="319" y="55.4" width="1" height="428.6" fill="#fff" fill-opacity="0.06"/>
<rect x="320" y="55.4" width="1" height="428.6" fill="#fff" fill-opacity="0.04"/>
<rect x="321" y="55.4" width="1" height="428.6" fill="#fff" fill-opacity="1"/>
<rect x="328" y="55.4" width="1" height="428.6" fill="#fff" fill-opacity="0.14"/>
<rect x="329" y="55.4" width="1" height="428.6" fill="#fff" fill-opacity="0.12"/>
<rect x="330" y="55.4" width="1" height="428.6" fill="#fff" fill-opacity="0.08"/>
<rect x="331" y="55.4" width="1" height="428.6" fill="#fff" fill-opacity="0.06"/>
<rect x="332" y="55.4" width="1" height="428.6" fill="#fff" fill-opacity="0.04"/>
<rect x="333" y="55.4" width="1" height="428.6" fill="#fff" fill-opacity="1"/>
<rect x="339" y="55.4" width="1" height="428.6" fill="#fff" fill-opacity="0.16"/>
<rect x="340" y="55.4" width="1" height="428.6" fill="#fff" fill-opacity="0.12"/>
<rect x="341" y="55.4" width="1" height="428.6" fill="#fff" fill-opacity="0.1"/>
<rect x="342" y="55.4" width="1" height="428.6" fill="#fff" fill-opacity="0.08"/>
<rect x="343" y="55.4" width="1" height="428.6" fill="#fff" fill-opacity="0.04"/>
<rect x="344" y="55.4" width="1" height="428.6" fill="#fff" fill-opacity="1"/>
<rect x="351" y="55.4" width="1" height="428.6" fill="#fff" fill-opacity="0.14"/>
<rect x="352" y="55.4" width="1" height="428.6" fill="#fff" fill-opacity="0.12"/>
<rect x="353" y="55.4" width="1" height="428.6" fill="#fff" fill-opacity="0.1"/>
<rect x="354" y="55.4" width="1" height="428.6" fill="#fff" fill-opacity="0.06"/>
<rect x="355" y="55.4" width="1" height="428.6" fill="#fff" fill-opacity="0.04"/>
<rect x="356" y="55.4" width="1" height="428.6" fill="#fff" fill-opacity="1"/>
<rect x="362" y="55.4" width="1" height="428.6" fill="#fff" fill-opacity="0.16"/>
<rect x="363" y="55.4" width="1" height="428.6" fill="#fff" fill-opacity="0.14"/>
<rect x="364" y="55.4" width="1" height="428.6" fill="#fff" fill-opacity="0.1"/>
<rect x="365" y="55.4" width="1" height="428.6" fill="#fff" fill-opacity="0.08"/>
<rect x="366" y="55.4" width="1" height="428.6" fill="#fff" fill-opacity="0.06"/>
<rect x="367" y="55.4" width="1" height="428.6" fill="#fff" fill-opacity="0.04"/>
<rect x="368" y="55.4" width="1" height="428.6" fill="#fff" fill-opacity="1"/>
<rect x="374" y="55.4" width="1" height="428.6" fill="#fff" fill-opacity="0.16"/>
<rect x="375" y="55.4" width="1" height="428.6" fill="#fff" fill-opacity="0.12"/>
<rect x="376" y="55.4" width="1" height="428.6" fill="#fff" fill-opacity="0.1"/>
<rect x="377" y="55.4" width="1" height="428.6" fill="#fff" fill-opacity="0.08"/>
<rect x="378" y="55.4" width="1" height="428.6" fill="#fff" fill-opacity="0.04"/>
<rect x="379" y="55.4" width="1" height="428.6" fill="#fff" fill-opacity="1"/>
<rect x="386" y="55.4" width="1" height="428.6" fill="#fff" fill-opacity="0.14"/>
<rect x="387" y="55.4" width="1" height="428.6" fill="#fff" fill-opacity="0.12"/>
<rect x="388" y="55.4" width="1" height="428.6" fill="#fff" fill-opacity="0.08"/>
<rect x="389" y="55.4" width="1" height="428.6" fill="#fff" fill-opacity="0.06"/>
<rect x="390" y="55.4" width="1" height="428.6" fill="#fff" fill-opacity="0.04"/>
<rect x="391" y="55.4" width="1" height="428.6" fill="#fff" fill-opacity="1"/>
<rect x="397" y="55.4" width="1" height="428.6" fill="#fff" fill-opacity="0.16"/>
<rect x="398" y="55.4" width="1" height="428.6" fill="#fff" fill-opacity="0.14"/>
<rect x="399" y="55.4" width="1" height="428.6" fill="#fff" fill-opacity="0.1"/>
<rect x="400" y="55.4" width="1" height="428.6" fill="#fff" fill-opacity="0.08"/>
<rect x="401" y="55.4" width="1" height="428.6" fill="#fff" fill-opacity="0.06"/>
<rect x="402" y="55.4" width="1" height="428.6" fill="#fff" fill-opacity="0.04"/>
<rect x="403" y="55.4" width="1" height="428.6" fill="#fff" fill-opacity="1"/>
<rect x="409" y="55.4" width="1" height="428.6" fill="#fff" fill-opacity="0.16"/>
<rect x="410" y="55.4" width="1" height="428.6" fill="#fff" fill-opacity="0.12"/>
<rect x="411" y="55.4" width="1" height="428.6" fill="#fff" fill-opacity="0.1"/>
<rect x="412" y="55.4" width="1" height="428.6" fill="#fff" fill-opacity="0.06"/>
<rect x="413" y="55.4" width="1" height="428.6" fill="#fff" fill-opacity="0.04"/>
<rect x="414" y="55.4" width="1" height="428.6" fill="#fff" fill-opacity="1"/>
<rect x="421" y="55.4" width="1" height="428.6" fill="#fff" fill-opacity="0.14"/>
<rect x="422" y="55.4" width="1" height="428.6" fill="#fff" fill-opacity="0.12"/>
<rect x="423" y="55.4" width="1" height="428.6" fill="#fff" fill-opacity="0.08"/>
<rect x="424" y="55.4" width="1" height="428.6" fill="#fff" fill-opacity="0.06"/>
<rect x="425" y="55.4" width="1" height="428.6" fill="#fff" fill-opacity="0.04"/>
<rect x="426" y="55.4" width="1" height="428.6" fill="#fff" fill-opacity="1"/>
<rect x="432" y="55.4" width="1" height="428.6" fill="#fff" fill-opacity="0.16"/>
<rect x="433" y="55.4" width="1" height="428.6" fill="#fff" fill-opacity="0.14"/>
<rect x="434" y="55.4" width="1" height="428.6" fill="#fff" fill-opacity="0.1"/>
<rect x="435" y="55.4" width="1" height="428.6" fill="#fff" fill-opacity="0.08"/>
<rect x="436" y="55.4" width="1" height="428.6" fill="#fff" fill-opacity="0.06"/>
<rect x="437" y="55.4" width="1" height="428.6" fill="#fff" fill-opacity="0.04"/>
<rect x="444" y="55.4" width="1" height="428.6" fill="#fff" fill-opacity="0.14"/>
<rect x="445" y="55.4" width="1" height="428.6" fill="#fff" fill-opacity="0.12"/>
<rect x="446" y="55.4" width="1" height="428.6" fill="#fff" fill-opacity="0.1"/>
<rect x="447" y="55.4" width="1" height="428.6" fill="#fff" fill-opacity="0.06"/>
<rect x="448" y="55.4" width="1" height="428.6" fill="#fff" fill-opacity="0.04"/>
<rect x="449" y="55.4" width="1" height="428.6" fill="#fff" fill-opacity="1"/>
<rect x="455" y="55.4" width="1" height="428.6" fill="#fff" fill-opacity="0.16"/>
<rect x="456" y="55.4" width="1" height="428.6" fill="#fff" fill-opacity="0.14"/>
<rect x="457" y="55.4" width="1" height="428.6" fill="#fff" fill-opacity="0.1"/>
<rect x="458" y="55.4" width="1" height="428.6" fill="#fff" fill-opacity="0.08"/>
<rect x="459" y="55.4" width="1" height="428.6" fill="#fff" fill-opacity="0.06"/>
<rect x="460" y="55.4" width="1" height="428.6" fill="#fff" fill-opacity="0.04"/>
<rect x="461" y="55.4" width="1" height="428.6" fill="#fff" fill-opacity="1"/>
<rect x="467" y="55.4" width="1" height="428.6" fill="#fff" fill-opacity="0.16"/>
<rect x="468" y="55.4" width="1" height="428.6" fill="#fff" fill-opacity="0.12"/>
<rect x="469" y="55.4" width="1" height="428.6" fill="#fff" fill-opacity="0.1"/>
<rect x="470" y="55.4" width="1" height="428.6" fill="#fff" fill-opacity="0.08"/>
<rect x="471" y="55.4" width="1" height="428.6" fill="#fff" fill-opacity="0.04"/>
<rect x="472" y="55.4" width="1" height="428.6" fill="#fff" fill-opacity="1"/>
<rect x="479" y="55.4" width="1" height="428.6" fill="#fff" fill-opacity="0.14"/>
<rect x="480" y="55.4" width="1" height="428.6" fill="#fff" fill-opacity="0.12"/>
<rect x="481" y="55.4" width="1" height="428.6" fill="#fff" fill-opacity="0.08"/>
<rect x="482" y="55.4" width="1" height="428.6" fill="#fff" fill-opacity="0.06"/>
<rect x="483" y="55.4" width="1" height="428.6" fill="#fff" fill-opacity="0.04"/>
<rect x="484" y="55.4" width="1" height="428.6" fill="#fff" fill-opacity="1"/>
<rect x="490" y="55.4" width="1" height="428.6" fill="#fff" fill-opacity="0.16"/>
<rect x="491" y="55.4" width="1" height="428.6" fill="#fff" fill-opacity="0.14"/>
<rect x="492" y="55.4" width="1" height="428.6" fill="#fff" fill-opacity="0.1"/>
<rect x="493" y="55.4" width="1" height="428.6" fill="#fff" fill-opacity="0.08"/>
<rect x="494" y="55.4" width="1" height="428.6" fill="#fff" fill-opacity="0.06"/>
<rect x="495" y="55.4" width="1" height="428.6" fill="#fff" fill-opacity="0.04"/>
<rect x="496" y="55.4" width="1" height="428.6" fill="#fff" fill-opacity="1"/>
<rect x="502" y="55.4" width="1" height="428.6" fill="#fff" fill-opacity="0.16"/>
<rect x="503" y="55.4" width="1" height="428.6" fill="#fff" fill-opacity="0.12"/>
<rect x="504" y="55.4" width="1" height="428.6" fill="#fff" fill-opacity="0.1"/>
<rect x="505" y="55.4" width="1" height="428.6" fill="#fff" fill-opacity="0.06"/>
<rect x="506" y="55.4" width="1" height="428.6" fill="#fff" fill-opacity="0.04"/>
<rect x="507" y="55.4" width="1" height="428.6" fill="#fff" fill-opacity="1"/>
<rect x="514" y="55.4" width="1" height="428.6" fill="#fff" fill-opacity="0.14"/>
<rect x="515" y="55.4" width="1" height="428.6" fill="#fff" fill-opacity="0.12"/>
<rect x="516" y="55.4" width="1" height="428.6" fill="#fff" fill-opacity="0.08"/>
<rect x="517" y="55.4" width="1" height="428.6" fill="#fff" fill-opacity="0.06"/>
<rect x="518" y="55.4" width="1" height="428.6" fill="#fff" fill-opacity="0.04"/>
<rect x="519" y="55.4" width="1" height="428.6" fill="#fff" fill-opacity="1"/>
<rect x="525" y="55.4" width="1" height="428.6" fill="#fff" fill-opacity="0.16"/>
<rect x="526" y="55.4" width="1" height="428.6" fill="#fff" fill-opacity="0.14"/>
<rect x="527" y="55.4" width="1" height="428.6" fill="#fff" fill-opacity="0.1"/>
<rect x="528" y="55.4" width="1" height="428.6" fill="#fff" fill-opacity="0.08"/>
<rect x="529" y="55.4" width="1" height="428.6" fill="#fff" fill-opacity="0.06"/>
<rect x="530" y="55.4" width="1" height="428.6" fill="#fff" fill-opacity="0.04"/>
<rect x="537" y="55.4" width="1" height="428.6" fill="#fff" fill-opacity="0.14"/>
<rect x="538" y="55.4" width="1" height="428.6" fill="#fff" fill-opacity="0.12"/>
<rect x="539" y="55.4" width="1" height="428.6" fill="#fff" fill-opacity="0.1"/>
<rect x="540" y="55.4" width="1" height="428.6" fill="#fff" fill-opacity="0.06"/>
<rect x="541" y="55.4" width="1" height="428.6" fill="#fff" fill-opacity="0.04"/>
<rect x="542" y="55.4" width="1" height="428.6" fill="#fff" fill-opacity="1"/>
<rect x="549" y="55.4" width="1" height="428.6" fill="#fff" fill-opacity="0.14"/>
<rect x="550" y="55.4" width="1" height="428.6" fill="#fff" fill-opacity="0.12"/>
<rect x="551" y="55.4" width="1" height="428.6" fill="#fff" fill-opacity="0.08"/>
<rect x="552" y="55.4" width="1" height="428.6" fill="#fff" fill-opacity="0.06"/>
<rect x="553" y="55.4" width="1" height="428.6" fill="#fff" fill-opacity="0.04"/>
<rect x="554" y="55.4" width="1" height="428.6" fill="#fff" fill-opacity="1"/>
<rect x="560" y="55.4" width="1" height="428.6" fill="#fff" fill-opacity="0.16"/>
<rect x="561" y="55.4" width="1" height="428.6" fill="#fff" fill-opacity="0.12"/>
<rect x="562" y="55.4" width="1" height="428.6" fill="#fff" fill-opacity="0.1"/>
<rect x="563" y="55.4" width="1" height="428.6" fill="#fff" fill-opacity="0.08"/>
<rect x="564" y="55.4" width="1" height="428.6" fill="#fff" fill-opacity="0.04"/>
<rect x="565" y="55.4" width="1" height="428.6" fill="#fff" fill-opacity="1"/>
<rect x="572" y="55.4" width="1" height="428.6" fill="#fff" fill-opacity="0.14"/>
<rect x="573" y="55.4" width="1" height="428.6" fill="#fff" fill-opacity="0.12"/>
<rect x="574" y="55.4" width="1" height="428.6" fill="#fff" fill-opacity="0.1"/>
<rect x="575" y="55.4" width="1" height="428.6" fill="#fff" fill-opacity="0.06"/>
<rect x="576" y="55.4" width="1" height="428.6" fill="#fff" fill-opacity="0.04"/>
<rect x="577" y="55.4" width="1" height="428.6" fill="#fff" fill-opacity="1"/>
<rect x="583" y="55.4" width="1" height="428.6" fill="#fff" fill-opacity="0.16"/>
<rect x="584" y="55.4" width="1" height="428.6" fill="#fff" fill-opacity="0.14"/>
<rect x="585" y="55.4" width="1" height="428.6" fill="#fff" fill-opacity="0.1"/>
<rect x="586" y="55.4" width="1" height="428.6" fill="#fff" fill-opacity="0.08"/>
<rect x="587" y="55.4" width="1" height="428.6" fill="#fff" fill-opacity="0.06"/>
<rect x="588" y="55.4" width="1" height="428.6" fill="#fff" fill-opacity="0.04"/>
<rect x="589" y="55.4" width="1" height="428.6" fill="#fff" fill-opacity="1"/>
<rect x="595" y="55.4" width="1" height="428.6" fill="#fff" fill-opacity="0.16"/>
<rect x="596" y="55.4" width="1" height="428.6" fill="#fff" fill-opacity="0.12"/>
<rect x="597" y="55.4" width="1" height="428.6" fill="#fff" fill-opacity="0.1"/>
<rect x="598" y="55.4" width="1" height="428.6" fill="#fff" fill-opacity="0.08"/>
<rect x="599" y="55.4" width="1" height="428.6" fill="#fff" fill-opacity="0.04"/>
<rect x="600" y="55.4" width="1" height="428.6" fill="#fff" fill-opacity="1"/>
<rect x="607" y="55.4" width="1" height="428.6" fill="#fff" fill-opacity="0.14"/>
<rect x="608" y="55.4" width="1" height="428.6" fill="#fff" fill-opacity="0.12"/>
<rect x="609" y="55.4" width="1" height="428.6" fill="#fff" fill-opacity="0.08"/>
<rect x="610" y="55.4" width="1" height="428.6" fill="#fff" fill-opacity="0.06"/>
<rect x="611" y="55.4" width="1" height="428.6" fill="#fff" fill-opacity="0.04"/>
<rect x="612" y="55.4" width="1" height="428.6" fill="#fff" fill-opacity="1"/>
<rect x="618" y="55.4" width="1" height="428.6" fill="#fff" fill-opacity="0.16"/>
<rect x="619" y="55.4" width="1" height="428.6" fill="#fff" fill-opacity="0.14"/>
<rect x="620" y="55.4" width="1" height="428.6" fill="#fff" fill-opacity="0.1"/>
<rect x="621" y="55.4" width="1" height="428.6" fill="#fff" fill-opacity="0.08"/>
<rect x="622" y="55.4" width="1" height="428.6" fill="#fff" fill-opacity="0.06"/>
<rect x="623" y="55.4" width="1" height="428.6" fill="#fff" fill-opacity="0.04"/>
<rect x="624" y="55.4" width="1" height="428.6" fill="#fff" fill-opacity="1"/>
<rect x="630" y="55.4" width="1" height="428.6" fill="#fff" fill-opacity="0.16"/>
<rect x="631" y="55.4" width="1" height="428.6" fill="#fff" fill-opacity="0.12"/>
<rect x="632" y="55.4" width="1" height="428.6" fill="#fff" fill-opacity="0.1"/>
<rect x="633" y="55.4" width="1" height="428.6" fill="#fff" fill-opacity="0.06"/>
<rect x="634" y="55.4" width="1" height="428.6" fill="#fff" fill-opacity="0.04"/>
<rect x="635" y="55.4" width="1" height="428.6" fill="#fff" fill-opacity="1"/>
<rect x="642" y="55.4" width="1" height="428.6" fill="#fff" fill-opacity="0.14"/>
<rect x="643" y="55.4" width="1" height="428.6" fill="#fff" fill-opacity="0.12"/>
<rect x="644" y="55.4" width="1" height="428.6" fill="#fff" fill-opacity="0.08"/>
<rect x="645" y="55.4" width="1" height="428.6" fill="#fff" fill-opacity="0.06"/>
<rect x="646" y="55.4" width="1" height="428.6" fill="#fff" fill-opacity="0.04"/>
<rect x="647" y="55.4" width="1" height="428.6" fill="#fff" fill-opacity="1"/>
<rect x="653" y="55.4" width="1" height="428.6" fill="#fff" fill-opacity="0.16"/>
<rect x="654" y="55.4" width="1" height="428.6" fill="#fff" fill-opacity="0.14"/>
<rect x="655" y="55.4" width="1" height="428.6" fill="#fff" fill-opacity="0.1"/>
<rect x="656" y="55.4" width="1" height="428.6" fill="#fff" fill-opacity="0.08"/>
<rect x="657" y="55.4" width="1" height="428.6" fill="#fff" fill-opacity="0.06"/>
<rect x="658" y="55.4" width="1" height="428.6" fill="#fff" fill-opacity="0.04"/>
<rect x="665" y="55.4" width="1" height="428.6" fill="#fff" fill-opacity="0.14"/>
<rect x="666" y="55.4" width="1" height="428.6" fill="#fff" fill-opacity="0.12"/>
<rect x="667" y="55.4" width="1" height="428.6" fill="#fff" fill-opacity="0.1"/>
<rect x="668" y="55.4" width="1" height="428.6" fill="#fff" fill-opacity="0.06"/>
<rect x="669" y="55.4" width="1" height="428.6" fill="#fff" fill-opacity="0.04"/>
<rect x="670" y="55.4" width="1" height="428.6" fill="#fff" fill-opacity="1"/>
<rect x="676" y="55.4" width="1" height="428.6" fill="#fff" fill-opacity="0.16"/>
<rect x="677" y="55.4" width="1" height="428.6" fill="#fff" fill-opacity="0.14"/>
<rect x="678" y="55.4" width="1" height="428.6" fill="#fff" fill-opacity="0.1"/>
<rect x="679" y="55.4" width="1" height="428.6" fill="#fff" fill-opacity="0.08"/>
<rect x="680" y="55.4" width="1" height="428.6" fill="#fff" fill-opacity="0.06"/>
<rect x="681" y="55.4" width="1" height="428.6" fill="#fff" fill-opacity="0.04"/>
<rect x="682" y="55.4" width="1" height="428.6" fill="#fff" fill-opacity="1"/>
<rect x="688" y="55.4" width="1" height="428.6" fill="#fff" fill-opacity="0.16"/>
<rect x="689" y="55.4" width="1" height="428.6" fill="#fff" fill-opacity="0.12"/>
<rect x="690" y="55.4" width="1" height="428.6" fill="#fff" fill-opacity="0.1"/>
<rect x="691" y="55.4" width="1" height="428.6" fill="#fff" fill-opacity="0.08"/>
<rect x="692" y="55.4" width="1" height="428.6" fill="#fff" fill-opacity="0.04"/>
<rect x="693" y="55.4" width="1" height="428.6" fill="#fff" fill-opacity="1"/>
<rect x="700" y="55.4" width="1" height="428.6" fill="#fff" fill-opacity="0.14"/>
<rect x="701" y="55.4" width="1" height="428.6" fill="#fff" fill-opacity="0.12"/>
<rect x="702" y="55.4" width="1" height="428.6" fill="#fff" fill-opacity="0.08"/>
<rect x="703" y="55.4" width="1" height="428.6" fill="#fff" fill-opacity="0.06"/>
<rect x="704" y="55.4" width="1" height="428.6" fill="#fff" fill-opacity="0.04"/>
<rect x="705" y="55.4" width="1" height="428.6" fill="#fff" fill-opacity="1"/>
<rect x="711" y="55.4" width="1" height="428.6" fill="#fff" fill-opacity="0.16"/>
<rect x="712" y="55.4" width="1" height="428.6" fill="#fff" fill-opacity="0.14"/>
<rect x="713" y="55.4" width="1" height="428.6" fill="#fff" fill-opacity="0.1"/>
<rect x="714" y="55.4" width="1" height="428.6" fill="#fff" fill-opacity="0.08"/>
<rect x="715" y="55.4" width="1" height="428.6" fill="#fff" fill-opacity="0.06"/>
<rect x="716" y="55.4" width="1" height="428.6" fill="#fff" fill-opacity="0.04"/>
<rect x="717" y="55.4" width="1" height="428.6" fill="#fff" fill-opacity="1"/>
<rect x="723" y="55.4" width="1" height="428.6" fill="#fff" fill-opacity="0.16"/>
<rect x="724" y="55.4" width="1" height="428.6" fill="#fff" fill-opacity="0.12"/>
<rect x="725" y="55.4" width="1" height="428.6" fill="#fff" fill-opacity="0.1"/>
<rect x="726" y="55.4" width="1" height="428.6" fill="#fff" fill-opacity="0.06"/>
<rect x="727" y="55.4" width="1" height="428.6" fill="#fff" fill-opacity="0.04"/>
<rect x="728" y="55.4" width="1" height="428.6" fill="#fff" fill-opacity="1"/>
<rect x="735" y="55.4" width="1" height="428.6" fill="#fff" fill-opacity="0.14"/>
<rect x="736" y="55.4" width="1" height="428.6" fill="#fff" fill-opacity="0.12"/>
<rect x="737" y="55.4" width="1" height="428.6" fill="#fff" fill-opacity="0.08"/>
<rect x="738" y="55.4" width="1" height="428.6" fill="#fff" fill-opacity="0.06"/>
<rect x="739" y="55.4" width="1" height="428.6" fill="#fff" fill-opacity="0.04"/>
<rect x="740" y="55.4" width="1" height="428.6" fill="#fff" fill-opacity="1"/>
<rect x="746" y="55.4" width="1" height="428.6" fill="#fff" fill-opacity="0.16"/>
<rect x="747" y="55.4" width="1" height="428.6" fill="#fff" fill-opacity="0.14"/>
<rect x="748" y="55.4" width="1" height="428.6" fill="#fff" fill-opacity="0.1"/>
<rect x="749" y="55.4" width="1" height="428.6" fill="#fff" fill-opacity="0.08"/>
<rect x="750" y="55.4" width="1" height="428.6" fill="#fff" fill-opacity="0.06"/>
<rect x="751" y="55.4" width="1" height="428.6" fill="#fff" fill-opacity="0.04"/>
</g>
<rect x="107" y="55.4" width="1" height="47.6" fill="#87ebeb"/>
<rect x="107" y="103" width="1" height="1.5" fill="#c4aeeb"/>
<rect x="107" y="104.5" width="1" height="90.5" fill="#eb87eb"/>
<rect x="107" y="195" width="1" height="9" fill="#ebc4ae"/>
<rect x="107" y="204" width="1" height="35" fill="#ebeb87"/>
<rect x="107" y="239" width="1" height="4" fill="#aeeb87"/>
<rect x="107" y="243" width="1" height="12.4" fill="#aeaec4"/>
<rect x="107" y="255.4" width="1" height="4.1" fill="#87aec4"/>
<rect x="107" y="259.5" width="1" height="177.5" fill="#8787eb"/>
<rect x="107" y="437" width="1" height="0.2" fill="#c487ae"/>
<rect x="107" y="437.2" width="1" height="46.8" fill="#eb8787"/>
<rect x="71.5" y="34.5" width="717" height="449" fill="none" stroke="#5c5c5c" stroke-width="1"/>
<path d="M67.5,34V484" stroke="#b0b0b0" stroke-width="1" fill="none"/>
<path d="M65,483.5H68M65,461.5H68M65,440.5H68M65,418.5H68M65,397.5H68M65,376.5H68M65,354.5H68M65,333.5H68M65,312.5H68M65,290.5H68M65,269.5H68M65,247.5H68M65,226.5H68M65,205.5H68M65,183.5H68M65,162.5H68M65,141.5H68M65,119.5H68M65,98.5H68M65,76.5H68M65,55.5H68M65,34.5H68" stroke="#a4a4a4" stroke-width="1" fill="none"/>
<text class="tk" x="61" y="487.7" textLength="28" lengthAdjust="spacing">0.00</text>
<text class="tk" x="61" y="466.3" textLength="28" lengthAdjust="spacing">0.05</text>
<text class="tk" x="61" y="444.9" textLength="28" lengthAdjust="spacing">0.10</text>
<text class="tk" x="61" y="423.6" textLength="28" lengthAdjust="spacing">0.15</text>
<text class="tk" x="61" y="402.2" textLength="28" lengthAdjust="spacing">0.20</text>
<text class="tk" x="61" y="380.8" textLength="28" lengthAdjust="spacing">0.25</text>
<text class="tk" x="61" y="359.4" textLength="28" lengthAdjust="spacing">0.30</text>
<text class="tk" x="61" y="338.0" textLength="28" lengthAdjust="spacing">0.35</text>
<text class="tk" x="61" y="316.7" textLength="28" lengthAdjust="spacing">0.40</text>
<text class="tk" x="61" y="295.3" textLength="28" lengthAdjust="spacing">0.45</text>
<text class="tk" x="61" y="273.9" textLength="28" lengthAdjust="spacing">0.50</text>
<text class="tk" x="61" y="252.5" textLength="28" lengthAdjust="spacing">0.55</text>
<text class="tk" x="61" y="231.1" textLength="28" lengthAdjust="spacing">0.60</text>
<text class="tk" x="61" y="209.8" textLength="28" lengthAdjust="spacing">0.65</text>
<text class="tk" x="61" y="188.4" textLength="28" lengthAdjust="spacing">0.70</text>
<text class="tk" x="61" y="167.0" textLength="28" lengthAdjust="spacing">0.75</text>
<text class="tk" x="61" y="145.6" textLength="28" lengthAdjust="spacing">0.80</text>
<text class="tk" x="61" y="124.2" textLength="28" lengthAdjust="spacing">0.85</text>
<text class="tk" x="61" y="102.9" textLength="28" lengthAdjust="spacing">0.90</text>
<text class="tk" x="61" y="81.5" textLength="28" lengthAdjust="spacing">0.95</text>
<text class="tk" x="61" y="60.1" textLength="28" lengthAdjust="spacing">1.00</text>
<text class="tk" x="61" y="38.7" textLength="28" lengthAdjust="spacing">1.05</text>
<path d="M71,487.5H789" stroke="#b2b2b2" stroke-width="1" fill="none"/>
<rect x="107" y="487.7" width="645" height="2.1" fill="#c6c6c6"/>
<path d="M107.5,488V490M109.6,488V490M121.2,488V490M132.9,488V490M144.5,488V490M156.1,488V490M167.7,488V490M179.4,488V490M191.0,488V490M202.6,488V490M214.3,488V490M225.9,488V490M237.5,488V490M249.1,488V490M260.8,488V490M272.4,488V490M284.0,488V490M295.6,488V490M307.3,488V490M318.9,488V490M330.5,488V490M342.2,488V490M353.8,488V490M365.4,488V490M377.0,488V490M388.7,488V490M400.3,488V490M411.9,488V490M423.6,488V490M435.2,488V490M446.8,488V490M458.4,488V490M470.1,488V490M481.7,488V490M493.3,488V490M505.0,488V490M516.6,488V490M528.2,488V490M539.8,488V490M551.5,488V490M563.1,488V490M574.7,488V490M586.3,488V490M598.0,488V490M609.6,488V490M621.2,488V490M632.9,488V490M644.5,488V490M656.1,488V490M667.7,488V490M679.4,488V490M691.0,488V490M702.6,488V490M714.3,488V490M725.9,488V490M737.5,488V490M749.1,488V490" stroke="#999" stroke-width="1" fill="none"/>
<text class="ct" x="106.90" y="504">1</text>
<text class="ct" x="107.90" y="504">2</text>
<text class="ct" x="108.90" y="504">3</text>
<text class="ct" x="109.90" y="504">4</text>
<text class="ct" x="110.90" y="504">5</text>
<text class="ct" x="111.90" y="504">6</text>
<text class="ct" x="112.90" y="504">7</text>
<text class="ct" x="113.90" y="504">8</text>
<text class="ct" x="114.90" y="504">9</text>
<rect x="111" y="502.2" width="645.3" height="1.8" fill="#303030"/>
<text class="ax" x="430" y="528.7" textLength="66" lengthAdjust="spacing">iteration</text>
<text class="ax" transform="translate(25.3,258.2) rotate(-90)" textLength="43.3" lengthAdjust="spacing">share</text>
<rect x="231" y="584" width="8" height="8" fill="#ff5555"/>
<text class="lg" x="243" y="592" textLength="13" lengthAdjust="spacing">pt</text>
<rect x="262" y="584" width="8" height="8" fill="#5555ff"/>
<text class="lg" x="274" y="592" textLength="20.5" lengthAdjust="spacing">car</text>
<rect x="300" y="584" width="8" height="8" fill="#55ff55"/>
<text class="lg" x="312" y="592" textLength="125" lengthAdjust="spacing">longDistanceFreight</text>
<rect x="444" y="584" width="8" height="8" fill="#ffff55"/>
<text class="lg" x="456" y="592" textLength="23.5" lengthAdjust="spacing">ride</text>
<rect x="486" y="584" width="8" height="8" fill="#ff55ff"/>
<text class="lg" x="498" y="592" textLength="27" lengthAdjust="spacing">walk</text>
<rect x="531" y="584" width="8" height="8" fill="#55ffff"/>
<text class="lg" x="543" y="592" textLength="26" lengthAdjust="spacing">bike</text>
<rect x="734" y="541" width="30" height="8" fill="url(#sh)"/>
<g font-size="43.8" font-weight="bold" fill="#fff" stroke-linejoin="round" style="paint-order:stroke">
<text x="600 642.6 669.7 695.3 722.8 736.3" y="573.8" stroke="#bdd0f0" stroke-width="2.8">MATSim</text>
<text x="600 642.6 669.7 695.3 722.8 736.3" y="573.8" stroke="#5f8ace" stroke-width="1.3">MATSim</text>
</g>
</svg></body></html>
